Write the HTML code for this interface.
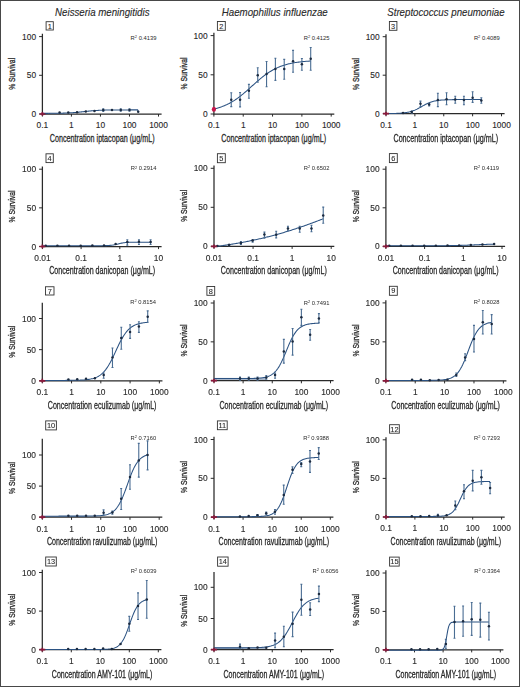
<!DOCTYPE html>
<html><head><meta charset="utf-8"><style>
html,body{margin:0;padding:0;background:#fff;overflow:hidden;}
svg{display:block;filter:blur(0.35px);}
text{font-family:"Liberation Sans",sans-serif;fill:#2a2a2a;}
.tl{font-size:8.4px;stroke:#2a2a2a;stroke-width:0.12px;}
.al{font-size:10.5px;stroke:#222;stroke-width:0.28px;}
.yl{font-size:9.7px;stroke:#222;stroke-width:0.3px;}
.ti{font-size:10.1px;font-style:italic;stroke:#2a2a2a;stroke-width:0.12px;}
.r2{font-size:5.8px;}
.bn{font-size:7.4px;stroke:#2a2a2a;stroke-width:0.1px;}
.sup{font-size:4px;}
</style></head><body>
<svg width="520" height="687" viewBox="0 0 520 687">
<rect x="0.5" y="0.5" width="519" height="686" fill="#fff" stroke="#484848" stroke-width="1"/>
<text x="102.3" y="15.6" class="ti" text-anchor="middle" textLength="94.4" lengthAdjust="spacingAndGlyphs">Neisseria meningitidis</text>
<text x="274.75" y="15.6" class="ti" text-anchor="middle" textLength="106.0" lengthAdjust="spacingAndGlyphs">Haemophillus influenzae</text>
<text x="445.9" y="15.6" class="ti" text-anchor="middle" textLength="117.3" lengthAdjust="spacingAndGlyphs">Streptococcus pneumoniae</text>
<path d="M42.4 33.7V114H161.6" fill="none" stroke="#2a2a2a" stroke-width="1.25"/>
<path d="M39.1 114H42.4" stroke="#2a2a2a" stroke-width="1"/>
<text x="36.1" y="117" class="tl" text-anchor="end">0</text>
<path d="M39.1 75.3H42.4" stroke="#2a2a2a" stroke-width="1"/>
<text x="36.1" y="78.3" class="tl" text-anchor="end">50</text>
<path d="M39.1 36.6H42.4" stroke="#2a2a2a" stroke-width="1"/>
<text x="36.1" y="39.6" class="tl" text-anchor="end">100</text>
<path d="M42.4 114V116.6" stroke="#2a2a2a" stroke-width="1"/>
<text x="42.4" y="128.4" class="tl" text-anchor="middle">0.1</text>
<path d="M71.42 114V116.6" stroke="#2a2a2a" stroke-width="1"/>
<text x="71.42" y="128.4" class="tl" text-anchor="middle">1</text>
<path d="M100.45 114V116.6" stroke="#2a2a2a" stroke-width="1"/>
<text x="100.45" y="128.4" class="tl" text-anchor="middle">10</text>
<path d="M129.47 114V116.6" stroke="#2a2a2a" stroke-width="1"/>
<text x="129.47" y="128.4" class="tl" text-anchor="middle">100</text>
<path d="M158.5 114V116.6" stroke="#2a2a2a" stroke-width="1"/>
<text x="158.5" y="128.4" class="tl" text-anchor="middle">1000</text>
<path d="M42.4 113.38 L43.2 113.38 L44 113.37 L44.8 113.37 L45.59 113.37 L46.39 113.36 L47.19 113.36 L47.99 113.36 L48.79 113.35 L49.59 113.35 L50.38 113.34 L51.18 113.34 L51.98 113.33 L52.78 113.32 L53.58 113.32 L54.38 113.31 L55.17 113.3 L55.97 113.29 L56.77 113.28 L57.57 113.26 L58.37 113.25 L59.17 113.24 L59.97 113.22 L60.76 113.2 L61.56 113.18 L62.36 113.16 L63.16 113.14 L63.96 113.11 L64.76 113.09 L65.55 113.06 L66.35 113.03 L67.15 112.99 L67.95 112.96 L68.75 112.92 L69.55 112.87 L70.35 112.83 L71.14 112.78 L71.94 112.73 L72.74 112.67 L73.54 112.61 L74.34 112.55 L75.14 112.49 L75.93 112.42 L76.73 112.35 L77.53 112.27 L78.33 112.2 L79.13 112.12 L79.93 112.04 L80.72 111.95 L81.52 111.87 L82.32 111.78 L83.12 111.7 L83.92 111.61 L84.72 111.52 L85.52 111.44 L86.31 111.35 L87.11 111.27 L87.91 111.19 L88.71 111.11 L89.51 111.03 L90.31 110.95 L91.1 110.88 L91.9 110.81 L92.7 110.75 L93.5 110.68 L94.3 110.62 L95.1 110.57 L95.9 110.52 L96.69 110.47 L97.49 110.42 L98.29 110.38 L99.09 110.34 L99.89 110.3 L100.69 110.26 L101.48 110.23 L102.28 110.2 L103.08 110.17 L103.88 110.15 L104.68 110.13 L105.48 110.1 L106.27 110.08 L107.07 110.07 L107.87 110.05 L108.67 110.03 L109.47 110.02 L110.27 110.01 L111.07 110 L111.86 109.99 L112.66 109.98 L113.46 109.97 L114.26 109.96 L115.06 109.95 L115.86 109.95 L116.65 109.94 L117.45 109.94 L118.25 109.93 L119.05 109.93 L119.85 109.92 L120.65 109.92 L121.45 109.92 L122.24 109.91 L123.04 109.91 L123.84 109.91 L124.64 109.9 L125.44 109.9 L126.24 109.9 L127.03 109.9 L127.83 109.9 L128.63 109.9 L129.43 109.9 L130.23 109.89 L131.03 109.89 L131.82 109.89 L132.62 109.89 L133.42 109.89 L134.22 109.89 L135.02 109.89 L135.82 109.89 L136.62 109.89 L137.41 109.89 L137.61 109.89 L138.41 111.8" fill="none" stroke="#2b5282" stroke-width="1.05"/>
<circle cx="59.58" cy="112.6" r="1.25" fill="#1c2b40"/>
<circle cx="68.31" cy="112.6" r="1.25" fill="#1c2b40"/>
<circle cx="77.05" cy="112.2" r="1.25" fill="#1c2b40"/>
<circle cx="85.79" cy="111.5" r="1.25" fill="#1c2b40"/>
<circle cx="94.53" cy="110.9" r="1.25" fill="#1c2b40"/>
<path d="M103.26 108.7V111.4M102.26 108.7H104.26M102.26 111.4H104.26" stroke="#4a6d93" stroke-width="1.1"/>
<circle cx="103.26" cy="110" r="1.25" fill="#1c2b40"/>
<circle cx="112" cy="110" r="1.25" fill="#1c2b40"/>
<path d="M120.74 108.7V111.3M119.74 108.7H121.74M119.74 111.3H121.74" stroke="#4a6d93" stroke-width="1.1"/>
<circle cx="120.74" cy="109.9" r="1.25" fill="#1c2b40"/>
<path d="M129.47 108.7V111.3M128.47 108.7H130.47M128.47 111.3H130.47" stroke="#4a6d93" stroke-width="1.1"/>
<circle cx="129.47" cy="109.9" r="1.25" fill="#1c2b40"/>
<circle cx="138.21" cy="111.8" r="1.25" fill="#1c2b40"/>
<path d="M39.4 114H45.4M42.4 112V115.8" stroke="#8a1a3c" stroke-width="1.7"/>
<rect x="46.1" y="21.7" width="7.2" height="8.3" fill="none" stroke="#333" stroke-width="0.9"/>
<text x="49.7" y="28.5" class="bn" text-anchor="middle">1</text>
<text x="130.6" y="39.7" class="r2">R<tspan class="sup" dy="-1.8">2</tspan><tspan dy="1.8"> 0.4139</tspan></text>
<text transform="translate(15.4 73.85) rotate(-90)" class="yl" text-anchor="middle" textLength="32" lengthAdjust="spacingAndGlyphs">% Survival</text>
<text x="102.2" y="142" class="al" text-anchor="middle" textLength="104.7" lengthAdjust="spacingAndGlyphs">Concentration iptacopan (μg/mL)</text>
<path d="M213.9 32.8V114H334.3" fill="none" stroke="#2a2a2a" stroke-width="1.25"/>
<path d="M210.6 114H213.9" stroke="#2a2a2a" stroke-width="1"/>
<text x="207.6" y="117" class="tl" text-anchor="end">0</text>
<path d="M210.6 74.8H213.9" stroke="#2a2a2a" stroke-width="1"/>
<text x="207.6" y="77.8" class="tl" text-anchor="end">50</text>
<path d="M210.6 35.6H213.9" stroke="#2a2a2a" stroke-width="1"/>
<text x="207.6" y="38.6" class="tl" text-anchor="end">100</text>
<path d="M213.9 114V116.6" stroke="#2a2a2a" stroke-width="1"/>
<text x="213.9" y="128.4" class="tl" text-anchor="middle">0.1</text>
<path d="M243.22 114V116.6" stroke="#2a2a2a" stroke-width="1"/>
<text x="243.22" y="128.4" class="tl" text-anchor="middle">1</text>
<path d="M272.55 114V116.6" stroke="#2a2a2a" stroke-width="1"/>
<text x="272.55" y="128.4" class="tl" text-anchor="middle">10</text>
<path d="M301.88 114V116.6" stroke="#2a2a2a" stroke-width="1"/>
<text x="301.88" y="128.4" class="tl" text-anchor="middle">100</text>
<path d="M331.2 114V116.6" stroke="#2a2a2a" stroke-width="1"/>
<text x="331.2" y="128.4" class="tl" text-anchor="middle">1000</text>
<path d="M213.9 109 L214.71 108.8 L215.51 108.6 L216.32 108.39 L217.13 108.17 L217.93 107.94 L218.74 107.7 L219.55 107.45 L220.35 107.19 L221.16 106.91 L221.97 106.62 L222.77 106.32 L223.58 106.01 L224.39 105.68 L225.19 105.34 L226 104.98 L226.81 104.61 L227.61 104.23 L228.42 103.83 L229.23 103.42 L230.03 102.99 L230.84 102.54 L231.65 102.08 L232.45 101.6 L233.26 101.11 L234.07 100.6 L234.87 100.08 L235.68 99.54 L236.49 98.99 L237.29 98.42 L238.1 97.83 L238.91 97.24 L239.71 96.62 L240.52 96 L241.33 95.36 L242.13 94.71 L242.94 94.04 L243.75 93.37 L244.55 92.68 L245.36 91.99 L246.17 91.29 L246.97 90.58 L247.78 89.86 L248.59 89.14 L249.39 88.42 L250.2 87.69 L251.01 86.96 L251.81 86.23 L252.62 85.5 L253.43 84.77 L254.23 84.04 L255.04 83.32 L255.85 82.6 L256.65 81.88 L257.46 81.18 L258.27 80.48 L259.07 79.79 L259.88 79.11 L260.69 78.44 L261.49 77.78 L262.3 77.13 L263.11 76.5 L263.91 75.87 L264.72 75.27 L265.53 74.67 L266.33 74.1 L267.14 73.53 L267.95 72.98 L268.75 72.45 L269.56 71.93 L270.37 71.43 L271.17 70.94 L271.98 70.47 L272.79 70.02 L273.6 69.58 L274.4 69.15 L275.21 68.75 L276.02 68.35 L276.82 67.97 L277.63 67.61 L278.44 67.26 L279.24 66.92 L280.05 66.6 L280.86 66.29 L281.66 65.99 L282.47 65.71 L283.28 65.44 L284.08 65.18 L284.89 64.93 L285.7 64.69 L286.5 64.47 L287.31 64.25 L288.12 64.04 L288.92 63.85 L289.73 63.66 L290.54 63.48 L291.34 63.31 L292.15 63.15 L292.96 63 L293.76 62.85 L294.57 62.71 L295.38 62.58 L296.18 62.45 L296.99 62.33 L297.8 62.22 L298.6 62.11 L299.41 62.01 L300.22 61.91 L301.02 61.82 L301.83 61.73 L302.64 61.64 L303.44 61.56 L304.25 61.49 L305.06 61.42 L305.86 61.35 L306.67 61.29 L307.48 61.23 L308.28 61.17 L309.09 61.11 L309.9 61.06 L310.7 61.01" fill="none" stroke="#2b5282" stroke-width="1.05"/>
<path d="M231.25 92.8V106.6M230.25 92.8H232.25M230.25 106.6H232.25" stroke="#4a6d93" stroke-width="1.1"/>
<circle cx="231.25" cy="99.7" r="1.25" fill="#1c2b40"/>
<path d="M240.08 92.5V106.9M239.08 92.5H241.08M239.08 106.9H241.08" stroke="#4a6d93" stroke-width="1.1"/>
<circle cx="240.08" cy="99.7" r="1.25" fill="#1c2b40"/>
<path d="M248.91 84.4V98.3M247.91 84.4H249.91M247.91 98.3H249.91" stroke="#4a6d93" stroke-width="1.1"/>
<circle cx="248.91" cy="90.8" r="1.25" fill="#1c2b40"/>
<path d="M257.74 67.7V82.1M256.74 67.7H258.74M256.74 82.1H258.74" stroke="#4a6d93" stroke-width="1.1"/>
<circle cx="257.74" cy="75.2" r="1.25" fill="#1c2b40"/>
<path d="M266.56 61.5V86.7M265.56 61.5H267.56M265.56 86.7H267.56" stroke="#4a6d93" stroke-width="1.1"/>
<circle cx="266.56" cy="74" r="1.25" fill="#1c2b40"/>
<path d="M275.39 58.2V80.4M274.39 58.2H276.39M274.39 80.4H276.39" stroke="#4a6d93" stroke-width="1.1"/>
<circle cx="275.39" cy="69.1" r="1.25" fill="#1c2b40"/>
<path d="M284.22 59.4V79.2M283.22 59.4H285.22M283.22 79.2H285.22" stroke="#4a6d93" stroke-width="1.1"/>
<circle cx="284.22" cy="69.1" r="1.25" fill="#1c2b40"/>
<path d="M293.05 50.4V72.3M292.05 50.4H294.05M292.05 72.3H294.05" stroke="#4a6d93" stroke-width="1.1"/>
<circle cx="293.05" cy="61.3" r="1.25" fill="#1c2b40"/>
<path d="M301.88 58.5V70.2M300.88 58.5H302.88M300.88 70.2H302.88" stroke="#4a6d93" stroke-width="1.1"/>
<circle cx="301.88" cy="64.2" r="1.25" fill="#1c2b40"/>
<path d="M310.7 47.5V70.2M309.7 47.5H311.7M309.7 70.2H311.7" stroke="#4a6d93" stroke-width="1.1"/>
<circle cx="310.7" cy="58.7" r="1.25" fill="#1c2b40"/>
<ellipse cx="213.9" cy="109.2" rx="2.1" ry="2.5" fill="#c8164a"/>
<rect x="217.4" y="21.5" width="7.9" height="8.8" fill="none" stroke="#333" stroke-width="0.9"/>
<text x="221.35" y="28.55" class="bn" text-anchor="middle">2</text>
<text x="303.7" y="39.7" class="r2">R<tspan class="sup" dy="-1.8">2</tspan><tspan dy="1.8"> 0.4125</tspan></text>
<text transform="translate(186.9 73.4) rotate(-90)" class="yl" text-anchor="middle" textLength="32" lengthAdjust="spacingAndGlyphs">% Survival</text>
<text x="273.7" y="142" class="al" text-anchor="middle" textLength="104.7" lengthAdjust="spacingAndGlyphs">Concentration iptacopan (μg/mL)</text>
<path d="M386 34.2V113.7H504.6" fill="none" stroke="#2a2a2a" stroke-width="1.25"/>
<path d="M382.7 113.7H386" stroke="#2a2a2a" stroke-width="1"/>
<text x="379.7" y="116.7" class="tl" text-anchor="end">0</text>
<path d="M382.7 75.2H386" stroke="#2a2a2a" stroke-width="1"/>
<text x="379.7" y="78.2" class="tl" text-anchor="end">50</text>
<path d="M382.7 36.7H386" stroke="#2a2a2a" stroke-width="1"/>
<text x="379.7" y="39.7" class="tl" text-anchor="end">100</text>
<path d="M386 113.7V116.3" stroke="#2a2a2a" stroke-width="1"/>
<text x="386" y="128.1" class="tl" text-anchor="middle">0.1</text>
<path d="M414.88 113.7V116.3" stroke="#2a2a2a" stroke-width="1"/>
<text x="414.88" y="128.1" class="tl" text-anchor="middle">1</text>
<path d="M443.75 113.7V116.3" stroke="#2a2a2a" stroke-width="1"/>
<text x="443.75" y="128.1" class="tl" text-anchor="middle">10</text>
<path d="M472.62 113.7V116.3" stroke="#2a2a2a" stroke-width="1"/>
<text x="472.62" y="128.1" class="tl" text-anchor="middle">100</text>
<path d="M501.5 113.7V116.3" stroke="#2a2a2a" stroke-width="1"/>
<text x="501.5" y="128.1" class="tl" text-anchor="middle">1000</text>
<path d="M386 113.57 L386.79 113.56 L387.59 113.55 L388.38 113.55 L389.18 113.54 L389.97 113.53 L390.77 113.52 L391.56 113.5 L392.35 113.49 L393.15 113.47 L393.94 113.46 L394.74 113.44 L395.53 113.41 L396.33 113.39 L397.12 113.35 L397.91 113.32 L398.71 113.28 L399.5 113.24 L400.3 113.19 L401.09 113.13 L401.89 113.07 L402.68 113 L403.47 112.92 L404.27 112.83 L405.06 112.73 L405.86 112.61 L406.65 112.49 L407.45 112.34 L408.24 112.19 L409.03 112.01 L409.83 111.82 L410.62 111.61 L411.42 111.38 L412.21 111.12 L413.01 110.85 L413.8 110.55 L414.6 110.23 L415.39 109.89 L416.18 109.52 L416.98 109.14 L417.77 108.73 L418.57 108.31 L419.36 107.88 L420.16 107.43 L420.95 106.98 L421.74 106.53 L422.54 106.08 L423.33 105.63 L424.13 105.18 L424.92 104.75 L425.72 104.34 L426.51 103.94 L427.3 103.55 L428.1 103.19 L428.89 102.86 L429.69 102.54 L430.48 102.25 L431.28 101.97 L432.07 101.73 L432.86 101.5 L433.66 101.29 L434.45 101.1 L435.25 100.93 L436.04 100.78 L436.84 100.64 L437.63 100.52 L438.42 100.41 L439.22 100.31 L440.01 100.22 L440.81 100.14 L441.6 100.07 L442.4 100.01 L443.19 99.95 L443.98 99.91 L444.78 99.86 L445.57 99.83 L446.37 99.79 L447.16 99.76 L447.96 99.74 L448.75 99.71 L449.54 99.69 L450.34 99.68 L451.13 99.66 L451.93 99.65 L452.72 99.63 L453.52 99.62 L454.31 99.61 L455.1 99.61 L455.9 99.6 L456.69 99.59 L457.49 99.59 L458.28 99.58 L459.08 99.58 L459.87 99.57 L460.67 99.57 L461.46 99.57 L462.25 99.56 L463.05 99.56 L463.84 99.56 L464.64 99.56 L465.43 99.56 L466.23 99.55 L467.02 99.55 L467.81 99.55 L468.61 99.55 L469.4 99.55 L470.2 99.55 L470.99 99.55 L471.79 99.55 L472.58 99.55 L473.37 99.55 L474.17 99.55 L474.96 99.55 L475.76 99.55 L476.55 99.55 L477.35 99.55 L478.14 99.55 L478.93 99.55 L479.73 99.55 L480.52 99.55 L481.32 99.55" fill="none" stroke="#2b5282" stroke-width="1.05"/>
<circle cx="403.09" cy="113" r="1.25" fill="#1c2b40"/>
<path d="M411.78 111V113.3M410.78 111H412.78M410.78 113.3H412.78" stroke="#4a6d93" stroke-width="1.1"/>
<circle cx="411.78" cy="112.1" r="1.25" fill="#1c2b40"/>
<path d="M420.47 101.1V106.6M419.47 101.1H421.47M419.47 106.6H421.47" stroke="#4a6d93" stroke-width="1.1"/>
<circle cx="420.47" cy="103.8" r="1.25" fill="#1c2b40"/>
<path d="M429.16 103.3V106M428.16 103.3H430.16M428.16 106H430.16" stroke="#4a6d93" stroke-width="1.1"/>
<circle cx="429.16" cy="104.6" r="1.25" fill="#1c2b40"/>
<path d="M437.86 93.2V106.6M436.86 93.2H438.86M436.86 106.6H438.86" stroke="#4a6d93" stroke-width="1.1"/>
<circle cx="437.86" cy="100" r="1.25" fill="#1c2b40"/>
<path d="M446.55 92.7V104.7M445.55 92.7H447.55M445.55 104.7H447.55" stroke="#4a6d93" stroke-width="1.1"/>
<circle cx="446.55" cy="99.3" r="1.25" fill="#1c2b40"/>
<path d="M455.24 96.3V103.3M454.24 96.3H456.24M454.24 103.3H456.24" stroke="#4a6d93" stroke-width="1.1"/>
<circle cx="455.24" cy="99.6" r="1.25" fill="#1c2b40"/>
<path d="M463.93 96.3V104.7M462.93 96.3H464.93M462.93 104.7H464.93" stroke="#4a6d93" stroke-width="1.1"/>
<circle cx="463.93" cy="100" r="1.25" fill="#1c2b40"/>
<path d="M472.62 91.8V102.4M471.62 91.8H473.62M471.62 102.4H473.62" stroke="#4a6d93" stroke-width="1.1"/>
<circle cx="472.62" cy="97.8" r="1.25" fill="#1c2b40"/>
<path d="M481.32 97.8V103.3M480.32 97.8H482.32M480.32 103.3H482.32" stroke="#4a6d93" stroke-width="1.1"/>
<circle cx="481.32" cy="100.5" r="1.25" fill="#1c2b40"/>
<path d="M383 113.7H389M386 111.7V115.5" stroke="#8a1a3c" stroke-width="1.7"/>
<rect x="389.4" y="21.5" width="7.5" height="8.8" fill="none" stroke="#333" stroke-width="0.9"/>
<text x="393.15" y="28.55" class="bn" text-anchor="middle">3</text>
<text x="473.9" y="39.7" class="r2">R<tspan class="sup" dy="-1.8">2</tspan><tspan dy="1.8"> 0.4089</tspan></text>
<text transform="translate(359 73.95) rotate(-90)" class="yl" text-anchor="middle" textLength="32" lengthAdjust="spacingAndGlyphs">% Survival</text>
<text x="445.8" y="142" class="al" text-anchor="middle" textLength="104.7" lengthAdjust="spacingAndGlyphs">Concentration iptacopan (μg/mL)</text>
<path d="M42.4 166.4V246.5H161.6" fill="none" stroke="#2a2a2a" stroke-width="1.25"/>
<path d="M39.1 246.5H42.4" stroke="#2a2a2a" stroke-width="1"/>
<text x="36.1" y="249.5" class="tl" text-anchor="end">0</text>
<path d="M39.1 207.85H42.4" stroke="#2a2a2a" stroke-width="1"/>
<text x="36.1" y="210.85" class="tl" text-anchor="end">50</text>
<path d="M39.1 169.2H42.4" stroke="#2a2a2a" stroke-width="1"/>
<text x="36.1" y="172.2" class="tl" text-anchor="end">100</text>
<path d="M42.4 246.5V249.1" stroke="#2a2a2a" stroke-width="1"/>
<text x="42.4" y="260.9" class="tl" text-anchor="middle">0.01</text>
<path d="M81.1 246.5V249.1" stroke="#2a2a2a" stroke-width="1"/>
<text x="81.1" y="260.9" class="tl" text-anchor="middle">0.1</text>
<path d="M119.8 246.5V249.1" stroke="#2a2a2a" stroke-width="1"/>
<text x="119.8" y="260.9" class="tl" text-anchor="middle">1</text>
<path d="M158.5 246.5V249.1" stroke="#2a2a2a" stroke-width="1"/>
<text x="158.5" y="260.9" class="tl" text-anchor="middle">10</text>
<path d="M42.4 245.75 L43.3 245.75 L44.2 245.75 L45.11 245.75 L46.01 245.75 L46.91 245.75 L47.81 245.75 L48.71 245.75 L49.61 245.75 L50.52 245.75 L51.42 245.75 L52.32 245.75 L53.22 245.75 L54.12 245.75 L55.02 245.75 L55.93 245.75 L56.83 245.75 L57.73 245.75 L58.63 245.75 L59.53 245.75 L60.43 245.75 L61.34 245.75 L62.24 245.75 L63.14 245.75 L64.04 245.75 L64.94 245.75 L65.84 245.75 L66.75 245.75 L67.65 245.75 L68.55 245.75 L69.45 245.75 L70.35 245.75 L71.25 245.75 L72.16 245.75 L73.06 245.75 L73.96 245.75 L74.86 245.75 L75.76 245.75 L76.66 245.75 L77.57 245.75 L78.47 245.75 L79.37 245.75 L80.27 245.74 L81.17 245.74 L82.07 245.74 L82.98 245.74 L83.88 245.74 L84.78 245.74 L85.68 245.74 L86.58 245.74 L87.48 245.74 L88.39 245.74 L89.29 245.74 L90.19 245.74 L91.09 245.74 L91.99 245.74 L92.89 245.74 L93.8 245.74 L94.7 245.74 L95.6 245.74 L96.5 245.74 L97.4 245.73 L98.3 245.73 L99.21 245.73 L100.11 245.72 L101.01 245.71 L101.91 245.7 L102.81 245.69 L103.71 245.68 L104.62 245.66 L105.52 245.64 L106.42 245.61 L107.32 245.57 L108.22 245.52 L109.12 245.46 L110.03 245.39 L110.93 245.31 L111.83 245.2 L112.73 245.08 L113.63 244.93 L114.53 244.77 L115.44 244.58 L116.34 244.38 L117.24 244.16 L118.14 243.94 L119.04 243.72 L119.94 243.51 L120.85 243.31 L121.75 243.12 L122.65 242.96 L123.55 242.81 L124.45 242.69 L125.35 242.59 L126.26 242.5 L127.16 242.43 L128.06 242.37 L128.96 242.33 L129.86 242.29 L130.76 242.26 L131.67 242.24 L132.57 242.22 L133.47 242.2 L134.37 242.19 L135.27 242.18 L136.17 242.18 L137.08 242.17 L137.98 242.17 L138.88 242.16 L139.78 242.16 L140.68 242.16 L141.58 242.16 L142.49 242.16 L143.39 242.15 L144.29 242.15 L145.19 242.15 L146.09 242.15 L146.99 242.15 L147.9 242.15 L148.8 242.15 L149.7 242.15 L150.6 242.15" fill="none" stroke="#2b5282" stroke-width="1.05"/>
<circle cx="45.75" cy="245.8" r="1.25" fill="#1c2b40"/>
<circle cx="57.4" cy="245.7" r="1.25" fill="#1c2b40"/>
<circle cx="69.05" cy="245.7" r="1.25" fill="#1c2b40"/>
<circle cx="80.7" cy="245.7" r="1.25" fill="#1c2b40"/>
<circle cx="92.35" cy="245.5" r="1.25" fill="#1c2b40"/>
<circle cx="104" cy="245.5" r="1.25" fill="#1c2b40"/>
<circle cx="115.65" cy="244.1" r="1.25" fill="#1c2b40"/>
<path d="M127.3 239.7V245.1M126.3 239.7H128.3M126.3 245.1H128.3" stroke="#4a6d93" stroke-width="1.1"/>
<circle cx="127.3" cy="242.1" r="1.25" fill="#1c2b40"/>
<path d="M138.95 239.7V244.5M137.95 239.7H139.95M137.95 244.5H139.95" stroke="#4a6d93" stroke-width="1.1"/>
<circle cx="138.95" cy="241.7" r="1.25" fill="#1c2b40"/>
<path d="M150.6 239.8V244.5M149.6 239.8H151.6M149.6 244.5H151.6" stroke="#4a6d93" stroke-width="1.1"/>
<circle cx="150.6" cy="242.1" r="1.25" fill="#1c2b40"/>
<path d="M39.4 246.5H45.4M42.4 244.5V248.3" stroke="#8a1a3c" stroke-width="1.7"/>
<rect x="46" y="153.8" width="7.3" height="8.8" fill="none" stroke="#333" stroke-width="0.9"/>
<text x="49.65" y="160.85" class="bn" text-anchor="middle">4</text>
<text x="130.7" y="170.4" class="r2">R<tspan class="sup" dy="-1.8">2</tspan><tspan dy="1.8"> 0.2914</tspan></text>
<text transform="translate(15.4 206.45) rotate(-90)" class="yl" text-anchor="middle" textLength="32" lengthAdjust="spacingAndGlyphs">% Survival</text>
<text x="102.2" y="274" class="al" text-anchor="middle" textLength="105.95" lengthAdjust="spacingAndGlyphs">Concentration danicopan (μg/mL)</text>
<path d="M214 165.4V246.3H334.3" fill="none" stroke="#2a2a2a" stroke-width="1.25"/>
<path d="M210.7 246.3H214" stroke="#2a2a2a" stroke-width="1"/>
<text x="207.7" y="249.3" class="tl" text-anchor="end">0</text>
<path d="M210.7 207.3H214" stroke="#2a2a2a" stroke-width="1"/>
<text x="207.7" y="210.3" class="tl" text-anchor="end">50</text>
<path d="M210.7 168.3H214" stroke="#2a2a2a" stroke-width="1"/>
<text x="207.7" y="171.3" class="tl" text-anchor="end">100</text>
<path d="M214 246.3V248.9" stroke="#2a2a2a" stroke-width="1"/>
<text x="214" y="260.7" class="tl" text-anchor="middle">0.01</text>
<path d="M253.07 246.3V248.9" stroke="#2a2a2a" stroke-width="1"/>
<text x="253.07" y="260.7" class="tl" text-anchor="middle">0.1</text>
<path d="M292.13 246.3V248.9" stroke="#2a2a2a" stroke-width="1"/>
<text x="292.13" y="260.7" class="tl" text-anchor="middle">1</text>
<path d="M331.2 246.3V248.9" stroke="#2a2a2a" stroke-width="1"/>
<text x="331.2" y="260.7" class="tl" text-anchor="middle">10</text>
<path d="M214 246.73 L214.91 246.62 L215.82 246.5 L216.73 246.38 L217.64 246.27 L218.55 246.14 L219.46 246.02 L220.37 245.9 L221.28 245.77 L222.19 245.65 L223.1 245.52 L224.01 245.39 L224.92 245.26 L225.83 245.12 L226.74 244.99 L227.65 244.85 L228.56 244.71 L229.47 244.57 L230.38 244.43 L231.29 244.29 L232.2 244.14 L233.11 243.99 L234.02 243.84 L234.93 243.69 L235.85 243.54 L236.76 243.38 L237.67 243.23 L238.58 243.07 L239.49 242.91 L240.4 242.74 L241.31 242.58 L242.22 242.41 L243.13 242.24 L244.04 242.07 L244.95 241.9 L245.86 241.72 L246.77 241.55 L247.68 241.37 L248.59 241.19 L249.5 241 L250.41 240.82 L251.32 240.63 L252.23 240.44 L253.14 240.25 L254.05 240.05 L254.96 239.86 L255.87 239.66 L256.78 239.46 L257.69 239.26 L258.6 239.05 L259.51 238.84 L260.42 238.64 L261.33 238.42 L262.24 238.21 L263.15 237.99 L264.06 237.77 L264.97 237.55 L265.88 237.33 L266.79 237.11 L267.7 236.88 L268.61 236.65 L269.52 236.42 L270.43 236.18 L271.34 235.94 L272.25 235.71 L273.16 235.46 L274.07 235.22 L274.98 234.97 L275.89 234.73 L276.8 234.48 L277.71 234.22 L278.63 233.97 L279.54 233.71 L280.45 233.45 L281.36 233.19 L282.27 232.92 L283.18 232.65 L284.09 232.39 L285 232.11 L285.91 231.84 L286.82 231.56 L287.73 231.28 L288.64 231 L289.55 230.72 L290.46 230.43 L291.37 230.15 L292.28 229.86 L293.19 229.56 L294.1 229.27 L295.01 228.97 L295.92 228.67 L296.83 228.37 L297.74 228.07 L298.65 227.76 L299.56 227.46 L300.47 227.15 L301.38 226.83 L302.29 226.52 L303.2 226.2 L304.11 225.89 L305.02 225.57 L305.93 225.24 L306.84 224.92 L307.75 224.59 L308.66 224.27 L309.57 223.94 L310.48 223.6 L311.39 223.27 L312.3 222.93 L313.21 222.6 L314.12 222.26 L315.03 221.92 L315.94 221.57 L316.85 221.23 L317.76 220.88 L318.67 220.54 L319.58 220.19 L320.5 219.84 L321.41 219.48 L322.32 219.13 L323.23 218.77" fill="none" stroke="#2b5282" stroke-width="1.05"/>
<circle cx="217.38" cy="246" r="1.25" fill="#1c2b40"/>
<path d="M229.14 244.2V245.8M228.14 244.2H230.14M228.14 245.8H230.14" stroke="#4a6d93" stroke-width="1.1"/>
<circle cx="229.14" cy="245" r="1.25" fill="#1c2b40"/>
<path d="M240.9 241.5V244.4M239.9 241.5H241.9M239.9 244.4H241.9" stroke="#4a6d93" stroke-width="1.1"/>
<circle cx="240.9" cy="242.9" r="1.25" fill="#1c2b40"/>
<path d="M252.66 239.5V242.1M251.66 239.5H253.66M251.66 242.1H253.66" stroke="#4a6d93" stroke-width="1.1"/>
<circle cx="252.66" cy="240.6" r="1.25" fill="#1c2b40"/>
<path d="M264.42 232.1V238.1M263.42 232.1H265.42M263.42 238.1H265.42" stroke="#4a6d93" stroke-width="1.1"/>
<circle cx="264.42" cy="234.6" r="1.25" fill="#1c2b40"/>
<path d="M276.18 231.3V237.9M275.18 231.3H277.18M275.18 237.9H277.18" stroke="#4a6d93" stroke-width="1.1"/>
<circle cx="276.18" cy="234.8" r="1.25" fill="#1c2b40"/>
<path d="M287.94 226.2V230.8M286.94 226.2H288.94M286.94 230.8H288.94" stroke="#4a6d93" stroke-width="1.1"/>
<circle cx="287.94" cy="228.5" r="1.25" fill="#1c2b40"/>
<path d="M299.71 226.4V232.2M298.71 226.4H300.71M298.71 232.2H300.71" stroke="#4a6d93" stroke-width="1.1"/>
<circle cx="299.71" cy="228.5" r="1.25" fill="#1c2b40"/>
<path d="M311.47 225.2V231.7M310.47 225.2H312.47M310.47 231.7H312.47" stroke="#4a6d93" stroke-width="1.1"/>
<circle cx="311.47" cy="228.5" r="1.25" fill="#1c2b40"/>
<path d="M323.23 207.1V223.3M322.23 207.1H324.23M322.23 223.3H324.23" stroke="#4a6d93" stroke-width="1.1"/>
<circle cx="323.23" cy="215.5" r="1.25" fill="#1c2b40"/>
<path d="M211 246.4H217M214 244.4V248.2" stroke="#8a1a3c" stroke-width="1.7"/>
<rect x="217.4" y="153.7" width="7.9" height="9" fill="none" stroke="#333" stroke-width="0.9"/>
<text x="221.35" y="160.85" class="bn" text-anchor="middle">5</text>
<text x="303.7" y="170.2" class="r2">R<tspan class="sup" dy="-1.8">2</tspan><tspan dy="1.8"> 0.6502</tspan></text>
<text transform="translate(187 205.85) rotate(-90)" class="yl" text-anchor="middle" textLength="32" lengthAdjust="spacingAndGlyphs">% Survival</text>
<text x="273.8" y="274" class="al" text-anchor="middle" textLength="105.95" lengthAdjust="spacingAndGlyphs">Concentration danicopan (μg/mL)</text>
<path d="M385.9 166.2V246.4H505.1" fill="none" stroke="#2a2a2a" stroke-width="1.25"/>
<path d="M382.6 246.4H385.9" stroke="#2a2a2a" stroke-width="1"/>
<text x="379.6" y="249.4" class="tl" text-anchor="end">0</text>
<path d="M382.6 207.8H385.9" stroke="#2a2a2a" stroke-width="1"/>
<text x="379.6" y="210.8" class="tl" text-anchor="end">50</text>
<path d="M382.6 169.2H385.9" stroke="#2a2a2a" stroke-width="1"/>
<text x="379.6" y="172.2" class="tl" text-anchor="end">100</text>
<path d="M385.9 246.4V249" stroke="#2a2a2a" stroke-width="1"/>
<text x="385.9" y="260.8" class="tl" text-anchor="middle">0.01</text>
<path d="M424.6 246.4V249" stroke="#2a2a2a" stroke-width="1"/>
<text x="424.6" y="260.8" class="tl" text-anchor="middle">0.1</text>
<path d="M463.3 246.4V249" stroke="#2a2a2a" stroke-width="1"/>
<text x="463.3" y="260.8" class="tl" text-anchor="middle">1</text>
<path d="M502 246.4V249" stroke="#2a2a2a" stroke-width="1"/>
<text x="502" y="260.8" class="tl" text-anchor="middle">10</text>
<path d="M385.9 245.78 L386.8 245.78 L387.7 245.78 L388.61 245.78 L389.51 245.78 L390.41 245.78 L391.31 245.78 L392.21 245.78 L393.11 245.78 L394.02 245.78 L394.92 245.78 L395.82 245.78 L396.72 245.78 L397.62 245.78 L398.52 245.78 L399.43 245.78 L400.33 245.78 L401.23 245.78 L402.13 245.78 L403.03 245.78 L403.93 245.78 L404.84 245.78 L405.74 245.78 L406.64 245.78 L407.54 245.78 L408.44 245.78 L409.34 245.78 L410.25 245.78 L411.15 245.78 L412.05 245.78 L412.95 245.78 L413.85 245.78 L414.75 245.78 L415.66 245.78 L416.56 245.78 L417.46 245.78 L418.36 245.78 L419.26 245.78 L420.16 245.77 L421.07 245.77 L421.97 245.77 L422.87 245.77 L423.77 245.77 L424.67 245.77 L425.57 245.77 L426.48 245.77 L427.38 245.76 L428.28 245.76 L429.18 245.76 L430.08 245.76 L430.98 245.76 L431.89 245.75 L432.79 245.75 L433.69 245.75 L434.59 245.74 L435.49 245.74 L436.39 245.74 L437.3 245.73 L438.2 245.73 L439.1 245.72 L440 245.72 L440.9 245.71 L441.8 245.71 L442.71 245.7 L443.61 245.69 L444.51 245.68 L445.41 245.67 L446.31 245.67 L447.21 245.66 L448.12 245.64 L449.02 245.63 L449.92 245.62 L450.82 245.61 L451.72 245.59 L452.62 245.58 L453.53 245.56 L454.43 245.54 L455.33 245.53 L456.23 245.51 L457.13 245.48 L458.03 245.46 L458.94 245.44 L459.84 245.41 L460.74 245.39 L461.64 245.36 L462.54 245.33 L463.44 245.3 L464.35 245.27 L465.25 245.24 L466.15 245.2 L467.05 245.17 L467.95 245.13 L468.85 245.1 L469.76 245.06 L470.66 245.02 L471.56 244.98 L472.46 244.94 L473.36 244.9 L474.26 244.86 L475.17 244.82 L476.07 244.79 L476.97 244.75 L477.87 244.71 L478.77 244.67 L479.67 244.63 L480.58 244.6 L481.48 244.56 L482.38 244.53 L483.28 244.49 L484.18 244.46 L485.08 244.43 L485.99 244.4 L486.89 244.37 L487.79 244.34 L488.69 244.32 L489.59 244.29 L490.49 244.27 L491.4 244.25 L492.3 244.23 L493.2 244.21 L494.1 244.19" fill="none" stroke="#2b5282" stroke-width="1.05"/>
<circle cx="389.25" cy="245.8" r="1.25" fill="#1c2b40"/>
<circle cx="400.9" cy="245.7" r="1.25" fill="#1c2b40"/>
<circle cx="412.55" cy="245.7" r="1.25" fill="#1c2b40"/>
<circle cx="424.2" cy="245.7" r="1.25" fill="#1c2b40"/>
<circle cx="435.85" cy="245.7" r="1.25" fill="#1c2b40"/>
<circle cx="447.5" cy="245.6" r="1.25" fill="#1c2b40"/>
<circle cx="459.15" cy="245.5" r="1.25" fill="#1c2b40"/>
<circle cx="470.8" cy="245.1" r="1.25" fill="#1c2b40"/>
<circle cx="482.45" cy="244.5" r="1.25" fill="#1c2b40"/>
<circle cx="494.1" cy="244.1" r="1.25" fill="#1c2b40"/>
<path d="M382.9 246.4H388.9M385.9 244.4V248.2" stroke="#8a1a3c" stroke-width="1.7"/>
<rect x="389.4" y="153.6" width="7.9" height="9" fill="none" stroke="#333" stroke-width="0.9"/>
<text x="393.35" y="160.75" class="bn" text-anchor="middle">6</text>
<text x="473.7" y="170.2" class="r2">R<tspan class="sup" dy="-1.8">2</tspan><tspan dy="1.8"> 0.4119</tspan></text>
<text transform="translate(358.9 206.3) rotate(-90)" class="yl" text-anchor="middle" textLength="32" lengthAdjust="spacingAndGlyphs">% Survival</text>
<text x="445.7" y="274" class="al" text-anchor="middle" textLength="105.95" lengthAdjust="spacingAndGlyphs">Concentration danicopan (μg/mL)</text>
<path d="M42.3 302.7V380.8H162.45" fill="none" stroke="#2a2a2a" stroke-width="1.25"/>
<path d="M39 380.8H42.3" stroke="#2a2a2a" stroke-width="1"/>
<text x="36" y="383.8" class="tl" text-anchor="end">0</text>
<path d="M39 349.65H42.3" stroke="#2a2a2a" stroke-width="1"/>
<text x="36" y="352.65" class="tl" text-anchor="end">50</text>
<path d="M39 318.5H42.3" stroke="#2a2a2a" stroke-width="1"/>
<text x="36" y="321.5" class="tl" text-anchor="end">100</text>
<path d="M42.3 380.8V383.4" stroke="#2a2a2a" stroke-width="1"/>
<text x="42.3" y="395.2" class="tl" text-anchor="middle">0.1</text>
<path d="M71.56 380.8V383.4" stroke="#2a2a2a" stroke-width="1"/>
<text x="71.56" y="395.2" class="tl" text-anchor="middle">1</text>
<path d="M100.82 380.8V383.4" stroke="#2a2a2a" stroke-width="1"/>
<text x="100.82" y="395.2" class="tl" text-anchor="middle">10</text>
<path d="M130.09 380.8V383.4" stroke="#2a2a2a" stroke-width="1"/>
<text x="130.09" y="395.2" class="tl" text-anchor="middle">100</text>
<path d="M159.35 380.8V383.4" stroke="#2a2a2a" stroke-width="1"/>
<text x="159.35" y="395.2" class="tl" text-anchor="middle">1000</text>
<path d="M42.3 380.43 L43.18 380.43 L44.06 380.43 L44.94 380.43 L45.81 380.43 L46.69 380.43 L47.57 380.43 L48.45 380.43 L49.33 380.43 L50.21 380.43 L51.08 380.43 L51.96 380.43 L52.84 380.43 L53.72 380.43 L54.6 380.42 L55.48 380.42 L56.35 380.42 L57.23 380.42 L58.11 380.42 L58.99 380.42 L59.87 380.42 L60.75 380.41 L61.62 380.41 L62.5 380.41 L63.38 380.41 L64.26 380.4 L65.14 380.4 L66.02 380.39 L66.89 380.39 L67.77 380.38 L68.65 380.38 L69.53 380.37 L70.41 380.36 L71.29 380.35 L72.16 380.34 L73.04 380.33 L73.92 380.31 L74.8 380.3 L75.68 380.28 L76.56 380.25 L77.44 380.23 L78.31 380.2 L79.19 380.17 L80.07 380.14 L80.95 380.09 L81.83 380.05 L82.71 380 L83.58 379.93 L84.46 379.87 L85.34 379.79 L86.22 379.7 L87.1 379.6 L87.98 379.49 L88.85 379.36 L89.73 379.21 L90.61 379.05 L91.49 378.86 L92.37 378.65 L93.25 378.41 L94.12 378.14 L95 377.84 L95.88 377.5 L96.76 377.11 L97.64 376.68 L98.52 376.2 L99.39 375.66 L100.27 375.06 L101.15 374.39 L102.03 373.65 L102.91 372.83 L103.79 371.93 L104.66 370.94 L105.54 369.86 L106.42 368.69 L107.3 367.42 L108.18 366.06 L109.06 364.6 L109.94 363.06 L110.81 361.43 L111.69 359.72 L112.57 357.95 L113.45 356.13 L114.33 354.26 L115.21 352.37 L116.08 350.47 L116.96 348.57 L117.84 346.69 L118.72 344.85 L119.6 343.07 L120.48 341.34 L121.35 339.69 L122.23 338.12 L123.11 336.64 L123.99 335.25 L124.87 333.95 L125.75 332.75 L126.62 331.64 L127.5 330.63 L128.38 329.7 L129.26 328.86 L130.14 328.09 L131.02 327.4 L131.89 326.78 L132.77 326.23 L133.65 325.73 L134.53 325.28 L135.41 324.88 L136.29 324.53 L137.16 324.22 L138.04 323.94 L138.92 323.69 L139.8 323.47 L140.68 323.28 L141.56 323.11 L142.44 322.96 L143.31 322.82 L144.19 322.7 L145.07 322.6 L145.95 322.51 L146.83 322.43 L147.71 322.36" fill="none" stroke="#2b5282" stroke-width="1.05"/>
<circle cx="68.43" cy="379.4" r="1.25" fill="#1c2b40"/>
<circle cx="77.23" cy="379.2" r="1.25" fill="#1c2b40"/>
<circle cx="86.04" cy="378.7" r="1.25" fill="#1c2b40"/>
<circle cx="94.85" cy="378.2" r="1.25" fill="#1c2b40"/>
<path d="M103.66 373V378.2M102.66 373H104.66M102.66 378.2H104.66" stroke="#4a6d93" stroke-width="1.1"/>
<circle cx="103.66" cy="374.9" r="1.25" fill="#1c2b40"/>
<path d="M112.47 348V367.5M111.47 348H113.47M111.47 367.5H113.47" stroke="#4a6d93" stroke-width="1.1"/>
<circle cx="112.47" cy="357.5" r="1.25" fill="#1c2b40"/>
<path d="M121.28 327.2V349.3M120.28 327.2H122.28M120.28 349.3H122.28" stroke="#4a6d93" stroke-width="1.1"/>
<circle cx="121.28" cy="338.1" r="1.25" fill="#1c2b40"/>
<path d="M130.09 324.8V338.4M129.09 324.8H131.09M129.09 338.4H131.09" stroke="#4a6d93" stroke-width="1.1"/>
<circle cx="130.09" cy="331.9" r="1.25" fill="#1c2b40"/>
<path d="M138.9 321.7V332.4M137.9 321.7H139.9M137.9 332.4H139.9" stroke="#4a6d93" stroke-width="1.1"/>
<circle cx="138.9" cy="326.6" r="1.25" fill="#1c2b40"/>
<path d="M147.71 310.9V322.3M146.71 310.9H148.71M146.71 322.3H148.71" stroke="#4a6d93" stroke-width="1.1"/>
<circle cx="147.71" cy="316.7" r="1.25" fill="#1c2b40"/>
<path d="M39.3 380.8H45.3M42.3 378.8V382.6" stroke="#8a1a3c" stroke-width="1.7"/>
<rect x="45.5" y="286.75" width="8.5" height="8.25" fill="none" stroke="#333" stroke-width="0.9"/>
<text x="49.75" y="293.52" class="bn" text-anchor="middle">7</text>
<text x="130.2" y="303.5" class="r2">R<tspan class="sup" dy="-1.8">2</tspan><tspan dy="1.8"> 0.8154</tspan></text>
<text transform="translate(15.3 341.75) rotate(-90)" class="yl" text-anchor="middle" textLength="32" lengthAdjust="spacingAndGlyphs">% Survival</text>
<text x="102.1" y="409" class="al" text-anchor="middle" textLength="108.7" lengthAdjust="spacingAndGlyphs">Concentration eculizumab (μg/mL)</text>
<rect x="214" y="377.9" width="52.31" height="2.8" fill="#a9b7ca"/>
<path d="M214 300.2V380.7H333.6" fill="none" stroke="#2a2a2a" stroke-width="1.25"/>
<path d="M210.7 380.7H214" stroke="#2a2a2a" stroke-width="1"/>
<text x="207.7" y="383.7" class="tl" text-anchor="end">0</text>
<path d="M210.7 341.85H214" stroke="#2a2a2a" stroke-width="1"/>
<text x="207.7" y="344.85" class="tl" text-anchor="end">50</text>
<path d="M210.7 303H214" stroke="#2a2a2a" stroke-width="1"/>
<text x="207.7" y="306" class="tl" text-anchor="end">100</text>
<path d="M214 380.7V383.3" stroke="#2a2a2a" stroke-width="1"/>
<text x="214" y="395.1" class="tl" text-anchor="middle">0.1</text>
<path d="M243.12 380.7V383.3" stroke="#2a2a2a" stroke-width="1"/>
<text x="243.12" y="395.1" class="tl" text-anchor="middle">1</text>
<path d="M272.25 380.7V383.3" stroke="#2a2a2a" stroke-width="1"/>
<text x="272.25" y="395.1" class="tl" text-anchor="middle">10</text>
<path d="M301.38 380.7V383.3" stroke="#2a2a2a" stroke-width="1"/>
<text x="301.38" y="395.1" class="tl" text-anchor="middle">100</text>
<path d="M330.5 380.7V383.3" stroke="#2a2a2a" stroke-width="1"/>
<text x="330.5" y="395.1" class="tl" text-anchor="middle">1000</text>
<path d="M214 378.59 L214.87 378.59 L215.75 378.59 L216.62 378.59 L217.5 378.59 L218.37 378.59 L219.25 378.59 L220.12 378.59 L220.99 378.59 L221.87 378.59 L222.74 378.59 L223.62 378.59 L224.49 378.59 L225.37 378.59 L226.24 378.59 L227.11 378.59 L227.99 378.59 L228.86 378.59 L229.74 378.58 L230.61 378.58 L231.48 378.58 L232.36 378.58 L233.23 378.58 L234.11 378.58 L234.98 378.58 L235.86 378.58 L236.73 378.58 L237.6 378.58 L238.48 378.58 L239.35 378.57 L240.23 378.57 L241.1 378.57 L241.98 378.56 L242.85 378.56 L243.72 378.56 L244.6 378.55 L245.47 378.55 L246.35 378.54 L247.22 378.53 L248.1 378.52 L248.97 378.51 L249.84 378.5 L250.72 378.48 L251.59 378.46 L252.47 378.44 L253.34 378.42 L254.22 378.39 L255.09 378.36 L255.96 378.32 L256.84 378.28 L257.71 378.23 L258.59 378.17 L259.46 378.1 L260.34 378.02 L261.21 377.92 L262.08 377.81 L262.96 377.69 L263.83 377.54 L264.71 377.37 L265.58 377.18 L266.45 376.95 L267.33 376.69 L268.2 376.39 L269.08 376.04 L269.95 375.64 L270.83 375.18 L271.7 374.65 L272.57 374.05 L273.45 373.37 L274.32 372.6 L275.2 371.73 L276.07 370.75 L276.95 369.66 L277.82 368.45 L278.69 367.12 L279.57 365.66 L280.44 364.08 L281.32 362.37 L282.19 360.56 L283.07 358.64 L283.94 356.64 L284.81 354.57 L285.69 352.46 L286.56 350.33 L287.44 348.21 L288.31 346.11 L289.19 344.07 L290.06 342.1 L290.93 340.23 L291.81 338.46 L292.68 336.81 L293.56 335.28 L294.43 333.87 L295.31 332.59 L296.18 331.43 L297.05 330.39 L297.93 329.46 L298.8 328.64 L299.68 327.91 L300.55 327.26 L301.42 326.69 L302.3 326.2 L303.17 325.77 L304.05 325.39 L304.92 325.06 L305.8 324.78 L306.67 324.53 L307.54 324.32 L308.42 324.13 L309.29 323.97 L310.17 323.84 L311.04 323.72 L311.92 323.62 L312.79 323.53 L313.66 323.45 L314.54 323.39 L315.41 323.33 L316.29 323.29 L317.16 323.24 L318.04 323.21 L318.91 323.18" fill="none" stroke="#2b5282" stroke-width="1.05"/>
<path d="M240 377.1V380.1M239 377.1H241M239 380.1H241" stroke="#4a6d93" stroke-width="1.1"/>
<circle cx="240" cy="378.5" r="1.25" fill="#1c2b40"/>
<path d="M248.77 377.1V380.1M247.77 377.1H249.77M247.77 380.1H249.77" stroke="#4a6d93" stroke-width="1.1"/>
<circle cx="248.77" cy="378.5" r="1.25" fill="#1c2b40"/>
<path d="M257.54 377.1V380.1M256.54 377.1H258.54M256.54 380.1H258.54" stroke="#4a6d93" stroke-width="1.1"/>
<circle cx="257.54" cy="378.5" r="1.25" fill="#1c2b40"/>
<path d="M266.31 375.5V379.2M265.31 375.5H267.31M265.31 379.2H267.31" stroke="#4a6d93" stroke-width="1.1"/>
<circle cx="266.31" cy="377.4" r="1.25" fill="#1c2b40"/>
<path d="M275.07 373V378.2M274.07 373H276.07M274.07 378.2H276.07" stroke="#4a6d93" stroke-width="1.1"/>
<circle cx="275.07" cy="374.9" r="1.25" fill="#1c2b40"/>
<path d="M283.84 339.4V363.1M282.84 339.4H284.84M282.84 363.1H284.84" stroke="#4a6d93" stroke-width="1.1"/>
<circle cx="283.84" cy="351.4" r="1.25" fill="#1c2b40"/>
<path d="M292.61 328.5V355.1M291.61 328.5H293.61M291.61 355.1H293.61" stroke="#4a6d93" stroke-width="1.1"/>
<circle cx="292.61" cy="341.5" r="1.25" fill="#1c2b40"/>
<path d="M301.38 309.3V325.4M300.38 309.3H302.38M300.38 325.4H302.38" stroke="#4a6d93" stroke-width="1.1"/>
<circle cx="301.38" cy="317.3" r="1.25" fill="#1c2b40"/>
<path d="M310.14 329.5V340.2M309.14 329.5H311.14M309.14 340.2H311.14" stroke="#4a6d93" stroke-width="1.1"/>
<circle cx="310.14" cy="334.7" r="1.25" fill="#1c2b40"/>
<path d="M318.91 313.6V322.9M317.91 313.6H319.91M317.91 322.9H319.91" stroke="#4a6d93" stroke-width="1.1"/>
<circle cx="318.91" cy="318.6" r="1.25" fill="#1c2b40"/>
<path d="M211 380.7H217M214 378.7V382.5" stroke="#8a1a3c" stroke-width="1.7"/>
<rect x="206.9" y="286.5" width="7.8" height="8.8" fill="none" stroke="#333" stroke-width="0.9"/>
<text x="210.8" y="293.55" class="bn" text-anchor="middle">8</text>
<text x="303.7" y="304.8" class="r2">R<tspan class="sup" dy="-1.8">2</tspan><tspan dy="1.8"> 0.7491</tspan></text>
<text transform="translate(187 340.45) rotate(-90)" class="yl" text-anchor="middle" textLength="32" lengthAdjust="spacingAndGlyphs">% Survival</text>
<text x="273.8" y="409" class="al" text-anchor="middle" textLength="108.7" lengthAdjust="spacingAndGlyphs">Concentration eculizumab (μg/mL)</text>
<path d="M385.85 300.2V380.8H506.45" fill="none" stroke="#2a2a2a" stroke-width="1.25"/>
<path d="M382.55 380.8H385.85" stroke="#2a2a2a" stroke-width="1"/>
<text x="379.55" y="383.8" class="tl" text-anchor="end">0</text>
<path d="M382.55 341.85H385.85" stroke="#2a2a2a" stroke-width="1"/>
<text x="379.55" y="344.85" class="tl" text-anchor="end">50</text>
<path d="M382.55 302.9H385.85" stroke="#2a2a2a" stroke-width="1"/>
<text x="379.55" y="305.9" class="tl" text-anchor="end">100</text>
<path d="M385.85 380.8V383.4" stroke="#2a2a2a" stroke-width="1"/>
<text x="385.85" y="395.2" class="tl" text-anchor="middle">0.1</text>
<path d="M415.23 380.8V383.4" stroke="#2a2a2a" stroke-width="1"/>
<text x="415.23" y="395.2" class="tl" text-anchor="middle">1</text>
<path d="M444.6 380.8V383.4" stroke="#2a2a2a" stroke-width="1"/>
<text x="444.6" y="395.2" class="tl" text-anchor="middle">10</text>
<path d="M473.98 380.8V383.4" stroke="#2a2a2a" stroke-width="1"/>
<text x="473.98" y="395.2" class="tl" text-anchor="middle">100</text>
<path d="M503.35 380.8V383.4" stroke="#2a2a2a" stroke-width="1"/>
<text x="503.35" y="395.2" class="tl" text-anchor="middle">1000</text>
<path d="M385.85 380.44 L386.73 380.44 L387.61 380.44 L388.5 380.44 L389.38 380.44 L390.26 380.44 L391.14 380.44 L392.02 380.44 L392.9 380.44 L393.79 380.44 L394.67 380.44 L395.55 380.44 L396.43 380.44 L397.31 380.44 L398.19 380.44 L399.08 380.44 L399.96 380.44 L400.84 380.44 L401.72 380.44 L402.6 380.44 L403.49 380.44 L404.37 380.44 L405.25 380.44 L406.13 380.44 L407.01 380.44 L407.89 380.44 L408.78 380.44 L409.66 380.44 L410.54 380.44 L411.42 380.44 L412.3 380.44 L413.18 380.44 L414.07 380.44 L414.95 380.44 L415.83 380.44 L416.71 380.44 L417.59 380.44 L418.47 380.44 L419.36 380.43 L420.24 380.43 L421.12 380.43 L422 380.43 L422.88 380.43 L423.77 380.42 L424.65 380.42 L425.53 380.42 L426.41 380.41 L427.29 380.41 L428.17 380.4 L429.06 380.4 L429.94 380.39 L430.82 380.38 L431.7 380.37 L432.58 380.35 L433.46 380.34 L434.35 380.32 L435.23 380.3 L436.11 380.27 L436.99 380.25 L437.87 380.21 L438.76 380.17 L439.64 380.12 L440.52 380.07 L441.4 380 L442.28 379.93 L443.16 379.84 L444.05 379.74 L444.93 379.61 L445.81 379.47 L446.69 379.3 L447.57 379.11 L448.45 378.88 L449.34 378.62 L450.22 378.31 L451.1 377.96 L451.98 377.55 L452.86 377.07 L453.75 376.52 L454.63 375.89 L455.51 375.17 L456.39 374.34 L457.27 373.4 L458.15 372.34 L459.04 371.15 L459.92 369.82 L460.8 368.35 L461.68 366.73 L462.56 364.96 L463.44 363.06 L464.33 361.03 L465.21 358.88 L466.09 356.64 L466.97 354.33 L467.85 351.97 L468.73 349.61 L469.62 347.26 L470.5 344.96 L471.38 342.73 L472.26 340.6 L473.14 338.59 L474.03 336.72 L474.91 334.98 L475.79 333.39 L476.67 331.94 L477.55 330.64 L478.43 329.48 L479.32 328.44 L480.2 327.52 L481.08 326.72 L481.96 326.01 L482.84 325.4 L483.72 324.86 L484.61 324.4 L485.49 324 L486.37 323.65 L487.25 323.36 L488.13 323.1 L489.02 322.88 L489.9 322.69 L490.78 322.53 L491.66 322.39" fill="none" stroke="#2b5282" stroke-width="1.05"/>
<circle cx="412.08" cy="379.8" r="1.25" fill="#1c2b40"/>
<circle cx="420.92" cy="379.8" r="1.25" fill="#1c2b40"/>
<circle cx="429.76" cy="380.2" r="1.25" fill="#1c2b40"/>
<circle cx="438.6" cy="380" r="1.25" fill="#1c2b40"/>
<circle cx="447.45" cy="379.8" r="1.25" fill="#1c2b40"/>
<path d="M456.29 373V376.5M455.29 373H457.29M455.29 376.5H457.29" stroke="#4a6d93" stroke-width="1.1"/>
<circle cx="456.29" cy="374.9" r="1.25" fill="#1c2b40"/>
<path d="M465.13 353.8V360.6M464.13 353.8H466.13M464.13 360.6H466.13" stroke="#4a6d93" stroke-width="1.1"/>
<circle cx="465.13" cy="357.5" r="1.25" fill="#1c2b40"/>
<path d="M473.98 325.4V352M472.98 325.4H474.98M472.98 352H474.98" stroke="#4a6d93" stroke-width="1.1"/>
<circle cx="473.98" cy="339" r="1.25" fill="#1c2b40"/>
<path d="M482.82 310.5V334M481.82 310.5H483.82M481.82 334H483.82" stroke="#4a6d93" stroke-width="1.1"/>
<circle cx="482.82" cy="322.3" r="1.25" fill="#1c2b40"/>
<path d="M491.66 314.6V334M490.66 314.6H492.66M490.66 334H492.66" stroke="#4a6d93" stroke-width="1.1"/>
<circle cx="491.66" cy="324.1" r="1.25" fill="#1c2b40"/>
<path d="M382.85 380.8H388.85M385.85 378.8V382.6" stroke="#8a1a3c" stroke-width="1.7"/>
<rect x="389.4" y="286.3" width="7.9" height="9" fill="none" stroke="#333" stroke-width="0.9"/>
<text x="393.35" y="293.45" class="bn" text-anchor="middle">9</text>
<text x="473.7" y="304.1" class="r2">R<tspan class="sup" dy="-1.8">2</tspan><tspan dy="1.8"> 0.8028</tspan></text>
<text transform="translate(358.85 340.5) rotate(-90)" class="yl" text-anchor="middle" textLength="32" lengthAdjust="spacingAndGlyphs">% Survival</text>
<text x="445.65" y="409" class="al" text-anchor="middle" textLength="108.7" lengthAdjust="spacingAndGlyphs">Concentration eculizumab (μg/mL)</text>
<path d="M42.3 438.8V517.2H162.3" fill="none" stroke="#2a2a2a" stroke-width="1.25"/>
<path d="M39 517.2H42.3" stroke="#2a2a2a" stroke-width="1"/>
<text x="36" y="520.2" class="tl" text-anchor="end">0</text>
<path d="M39 486.1H42.3" stroke="#2a2a2a" stroke-width="1"/>
<text x="36" y="489.1" class="tl" text-anchor="end">50</text>
<path d="M39 455H42.3" stroke="#2a2a2a" stroke-width="1"/>
<text x="36" y="458" class="tl" text-anchor="end">100</text>
<path d="M42.3 517.2V519.8" stroke="#2a2a2a" stroke-width="1"/>
<text x="42.3" y="531.6" class="tl" text-anchor="middle">0.1</text>
<path d="M71.53 517.2V519.8" stroke="#2a2a2a" stroke-width="1"/>
<text x="71.53" y="531.6" class="tl" text-anchor="middle">1</text>
<path d="M100.75 517.2V519.8" stroke="#2a2a2a" stroke-width="1"/>
<text x="100.75" y="531.6" class="tl" text-anchor="middle">10</text>
<path d="M129.98 517.2V519.8" stroke="#2a2a2a" stroke-width="1"/>
<text x="129.98" y="531.6" class="tl" text-anchor="middle">100</text>
<path d="M159.2 517.2V519.8" stroke="#2a2a2a" stroke-width="1"/>
<text x="159.2" y="531.6" class="tl" text-anchor="middle">1000</text>
<path d="M42.3 516.15 L43.18 516.15 L44.05 516.15 L44.93 516.15 L45.81 516.15 L46.69 516.15 L47.56 516.15 L48.44 516.15 L49.32 516.15 L50.2 516.15 L51.07 516.15 L51.95 516.15 L52.83 516.15 L53.7 516.15 L54.58 516.15 L55.46 516.15 L56.34 516.15 L57.21 516.15 L58.09 516.15 L58.97 516.14 L59.85 516.14 L60.72 516.14 L61.6 516.14 L62.48 516.14 L63.35 516.14 L64.23 516.14 L65.11 516.14 L65.99 516.14 L66.86 516.14 L67.74 516.14 L68.62 516.14 L69.49 516.14 L70.37 516.14 L71.25 516.14 L72.13 516.14 L73 516.14 L73.88 516.14 L74.76 516.14 L75.64 516.14 L76.51 516.14 L77.39 516.14 L78.27 516.14 L79.14 516.13 L80.02 516.13 L80.9 516.13 L81.78 516.13 L82.65 516.12 L83.53 516.12 L84.41 516.12 L85.29 516.11 L86.16 516.1 L87.04 516.1 L87.92 516.09 L88.79 516.08 L89.67 516.07 L90.55 516.06 L91.43 516.04 L92.3 516.02 L93.18 516 L94.06 515.98 L94.94 515.95 L95.81 515.92 L96.69 515.88 L97.57 515.84 L98.44 515.79 L99.32 515.73 L100.2 515.65 L101.08 515.57 L101.95 515.48 L102.83 515.36 L103.71 515.23 L104.58 515.08 L105.46 514.91 L106.34 514.7 L107.22 514.46 L108.09 514.18 L108.97 513.86 L109.85 513.49 L110.73 513.07 L111.6 512.58 L112.48 512.01 L113.36 511.36 L114.23 510.62 L115.11 509.78 L115.99 508.83 L116.87 507.76 L117.74 506.55 L118.62 505.21 L119.5 503.72 L120.38 502.08 L121.25 500.3 L122.13 498.37 L123.01 496.31 L123.88 494.13 L124.76 491.84 L125.64 489.46 L126.52 487.03 L127.39 484.57 L128.27 482.11 L129.15 479.68 L130.03 477.32 L130.9 475.03 L131.78 472.85 L132.66 470.8 L133.53 468.88 L134.41 467.11 L135.29 465.49 L136.17 464.01 L137.04 462.68 L137.92 461.48 L138.8 460.42 L139.67 459.47 L140.55 458.64 L141.43 457.91 L142.31 457.26 L143.18 456.7 L144.06 456.22 L144.94 455.79 L145.82 455.43 L146.69 455.11 L147.57 454.84" fill="none" stroke="#2b5282" stroke-width="1.05"/>
<circle cx="68.39" cy="515.8" r="1.25" fill="#1c2b40"/>
<circle cx="77.19" cy="515.8" r="1.25" fill="#1c2b40"/>
<circle cx="85.99" cy="515.8" r="1.25" fill="#1c2b40"/>
<circle cx="94.78" cy="515.8" r="1.25" fill="#1c2b40"/>
<path d="M103.58 509.9V515.2M102.58 509.9H104.58M102.58 515.2H104.58" stroke="#4a6d93" stroke-width="1.1"/>
<circle cx="103.58" cy="512.7" r="1.25" fill="#1c2b40"/>
<path d="M112.38 511.1V514.2M111.38 511.1H113.38M111.38 514.2H113.38" stroke="#4a6d93" stroke-width="1.1"/>
<circle cx="112.38" cy="512.4" r="1.25" fill="#1c2b40"/>
<path d="M121.18 488.5V509.5M120.18 488.5H122.18M120.18 509.5H122.18" stroke="#4a6d93" stroke-width="1.1"/>
<circle cx="121.18" cy="498.7" r="1.25" fill="#1c2b40"/>
<path d="M129.98 464.7V489.2M128.98 464.7H130.98M128.98 489.2H130.98" stroke="#4a6d93" stroke-width="1.1"/>
<circle cx="129.98" cy="477.1" r="1.25" fill="#1c2b40"/>
<path d="M138.77 443.4V477.1M137.77 443.4H139.77M137.77 477.1H139.77" stroke="#4a6d93" stroke-width="1.1"/>
<circle cx="138.77" cy="460.4" r="1.25" fill="#1c2b40"/>
<path d="M147.57 440.9V469.9M146.57 440.9H148.57M146.57 469.9H148.57" stroke="#4a6d93" stroke-width="1.1"/>
<circle cx="147.57" cy="455" r="1.25" fill="#1c2b40"/>
<path d="M39.3 517.2H45.3M42.3 515.2V519" stroke="#8a1a3c" stroke-width="1.7"/>
<rect x="45.7" y="420.9" width="10.7" height="9" fill="none" stroke="#333" stroke-width="0.9"/>
<text x="51.05" y="428.05" class="bn" text-anchor="middle">10</text>
<text x="130.5" y="439.5" class="r2">R<tspan class="sup" dy="-1.8">2</tspan><tspan dy="1.8"> 0.7160</tspan></text>
<text transform="translate(15.3 478) rotate(-90)" class="yl" text-anchor="middle" textLength="32" lengthAdjust="spacingAndGlyphs">% Survival</text>
<text x="102.1" y="545" class="al" text-anchor="middle" textLength="110.45" lengthAdjust="spacingAndGlyphs">Concentration ravulizumab (μg/mL)</text>
<path d="M214 436.7V517.15H333.4" fill="none" stroke="#2a2a2a" stroke-width="1.25"/>
<path d="M210.7 517.15H214" stroke="#2a2a2a" stroke-width="1"/>
<text x="207.7" y="520.15" class="tl" text-anchor="end">0</text>
<path d="M210.7 478.32H214" stroke="#2a2a2a" stroke-width="1"/>
<text x="207.7" y="481.32" class="tl" text-anchor="end">50</text>
<path d="M210.7 439.5H214" stroke="#2a2a2a" stroke-width="1"/>
<text x="207.7" y="442.5" class="tl" text-anchor="end">100</text>
<path d="M214 517.15V519.75" stroke="#2a2a2a" stroke-width="1"/>
<text x="214" y="531.55" class="tl" text-anchor="middle">0.1</text>
<path d="M243.07 517.15V519.75" stroke="#2a2a2a" stroke-width="1"/>
<text x="243.07" y="531.55" class="tl" text-anchor="middle">1</text>
<path d="M272.15 517.15V519.75" stroke="#2a2a2a" stroke-width="1"/>
<text x="272.15" y="531.55" class="tl" text-anchor="middle">10</text>
<path d="M301.23 517.15V519.75" stroke="#2a2a2a" stroke-width="1"/>
<text x="301.23" y="531.55" class="tl" text-anchor="middle">100</text>
<path d="M330.3 517.15V519.75" stroke="#2a2a2a" stroke-width="1"/>
<text x="330.3" y="531.55" class="tl" text-anchor="middle">1000</text>
<path d="M214 516.7 L214.87 516.7 L215.75 516.7 L216.62 516.7 L217.49 516.7 L218.36 516.7 L219.24 516.7 L220.11 516.7 L220.98 516.7 L221.85 516.7 L222.73 516.7 L223.6 516.7 L224.47 516.7 L225.35 516.7 L226.22 516.7 L227.09 516.7 L227.96 516.7 L228.84 516.7 L229.71 516.7 L230.58 516.69 L231.45 516.69 L232.33 516.69 L233.2 516.69 L234.07 516.69 L234.95 516.69 L235.82 516.69 L236.69 516.69 L237.56 516.69 L238.44 516.69 L239.31 516.69 L240.18 516.69 L241.06 516.69 L241.93 516.69 L242.8 516.69 L243.67 516.69 L244.55 516.68 L245.42 516.68 L246.29 516.68 L247.16 516.68 L248.04 516.67 L248.91 516.67 L249.78 516.66 L250.66 516.66 L251.53 516.65 L252.4 516.64 L253.27 516.63 L254.15 516.62 L255.02 516.61 L255.89 516.59 L256.76 516.57 L257.64 516.54 L258.51 516.51 L259.38 516.48 L260.26 516.43 L261.13 516.38 L262 516.32 L262.87 516.25 L263.75 516.17 L264.62 516.06 L265.49 515.94 L266.36 515.8 L267.24 515.63 L268.11 515.43 L268.98 515.18 L269.86 514.9 L270.73 514.56 L271.6 514.17 L272.47 513.7 L273.35 513.15 L274.22 512.51 L275.09 511.76 L275.97 510.9 L276.84 509.9 L277.71 508.76 L278.58 507.45 L279.46 505.98 L280.33 504.33 L281.2 502.5 L282.07 500.5 L282.95 498.32 L283.82 496 L284.69 493.55 L285.57 491 L286.44 488.38 L287.31 485.75 L288.18 483.14 L289.06 480.59 L289.93 478.14 L290.8 475.81 L291.67 473.64 L292.55 471.63 L293.42 469.8 L294.29 468.15 L295.17 466.67 L296.04 465.37 L296.91 464.22 L297.78 463.22 L298.66 462.36 L299.53 461.61 L300.4 460.97 L301.27 460.42 L302.15 459.95 L303.02 459.55 L303.89 459.22 L304.77 458.93 L305.64 458.69 L306.51 458.49 L307.38 458.32 L308.26 458.17 L309.13 458.05 L310 457.95 L310.88 457.86 L311.75 457.79 L312.62 457.73 L313.49 457.68 L314.37 457.64 L315.24 457.6 L316.11 457.57 L316.98 457.55 L317.86 457.53 L318.73 457.51" fill="none" stroke="#2b5282" stroke-width="1.05"/>
<circle cx="239.96" cy="516.4" r="1.25" fill="#1c2b40"/>
<circle cx="248.71" cy="516" r="1.25" fill="#1c2b40"/>
<path d="M257.46 514.6V516.2M256.46 514.6H258.46M256.46 516.2H258.46" stroke="#4a6d93" stroke-width="1.1"/>
<circle cx="257.46" cy="515.3" r="1.25" fill="#1c2b40"/>
<path d="M266.22 512V514.8M265.22 512H267.22M265.22 514.8H267.22" stroke="#4a6d93" stroke-width="1.1"/>
<circle cx="266.22" cy="513.2" r="1.25" fill="#1c2b40"/>
<path d="M274.97 509.5V514.2M273.97 509.5H275.97M273.97 514.2H275.97" stroke="#4a6d93" stroke-width="1.1"/>
<circle cx="274.97" cy="511.7" r="1.25" fill="#1c2b40"/>
<path d="M283.72 485.1V504.3M282.72 485.1H284.72M282.72 504.3H284.72" stroke="#4a6d93" stroke-width="1.1"/>
<circle cx="283.72" cy="495" r="1.25" fill="#1c2b40"/>
<path d="M292.47 466.9V473.4M291.47 466.9H293.47M291.47 473.4H293.47" stroke="#4a6d93" stroke-width="1.1"/>
<circle cx="292.47" cy="469.7" r="1.25" fill="#1c2b40"/>
<path d="M301.23 462.5V466.6M300.23 462.5H302.23M300.23 466.6H302.23" stroke="#4a6d93" stroke-width="1.1"/>
<circle cx="301.23" cy="464.1" r="1.25" fill="#1c2b40"/>
<path d="M309.98 450.5V472.4M308.98 450.5H310.98M308.98 472.4H310.98" stroke="#4a6d93" stroke-width="1.1"/>
<circle cx="309.98" cy="461.6" r="1.25" fill="#1c2b40"/>
<path d="M318.73 447.6V459.5M317.73 447.6H319.73M317.73 459.5H319.73" stroke="#4a6d93" stroke-width="1.1"/>
<circle cx="318.73" cy="453.6" r="1.25" fill="#1c2b40"/>
<path d="M211 517.15H217M214 515.15V518.95" stroke="#8a1a3c" stroke-width="1.7"/>
<rect x="217.4" y="420.9" width="9.8" height="8.8" fill="none" stroke="#333" stroke-width="0.9"/>
<text x="222.3" y="427.95" class="bn" text-anchor="middle">11</text>
<text x="303.3" y="439.7" class="r2">R<tspan class="sup" dy="-1.8">2</tspan><tspan dy="1.8"> 0.9388</tspan></text>
<text transform="translate(187 476.92) rotate(-90)" class="yl" text-anchor="middle" textLength="32" lengthAdjust="spacingAndGlyphs">% Survival</text>
<text x="273.8" y="545" class="al" text-anchor="middle" textLength="110.45" lengthAdjust="spacingAndGlyphs">Concentration ravulizumab (μg/mL)</text>
<path d="M386 437.3V517H504.7" fill="none" stroke="#2a2a2a" stroke-width="1.25"/>
<path d="M382.7 517H386" stroke="#2a2a2a" stroke-width="1"/>
<text x="379.7" y="520" class="tl" text-anchor="end">0</text>
<path d="M382.7 478.4H386" stroke="#2a2a2a" stroke-width="1"/>
<text x="379.7" y="481.4" class="tl" text-anchor="end">50</text>
<path d="M382.7 439.8H386" stroke="#2a2a2a" stroke-width="1"/>
<text x="379.7" y="442.8" class="tl" text-anchor="end">100</text>
<path d="M386 517V519.6" stroke="#2a2a2a" stroke-width="1"/>
<text x="386" y="531.4" class="tl" text-anchor="middle">0.1</text>
<path d="M414.9 517V519.6" stroke="#2a2a2a" stroke-width="1"/>
<text x="414.9" y="531.4" class="tl" text-anchor="middle">1</text>
<path d="M443.8 517V519.6" stroke="#2a2a2a" stroke-width="1"/>
<text x="443.8" y="531.4" class="tl" text-anchor="middle">10</text>
<path d="M472.7 517V519.6" stroke="#2a2a2a" stroke-width="1"/>
<text x="472.7" y="531.4" class="tl" text-anchor="middle">100</text>
<path d="M501.6 517V519.6" stroke="#2a2a2a" stroke-width="1"/>
<text x="501.6" y="531.4" class="tl" text-anchor="middle">1000</text>
<path d="M386 516.44 L386.87 516.44 L387.73 516.44 L388.6 516.44 L389.47 516.44 L390.34 516.44 L391.2 516.44 L392.07 516.44 L392.94 516.44 L393.81 516.44 L394.67 516.44 L395.54 516.44 L396.41 516.44 L397.28 516.44 L398.14 516.44 L399.01 516.44 L399.88 516.44 L400.75 516.44 L401.61 516.44 L402.48 516.44 L403.35 516.44 L404.22 516.44 L405.08 516.44 L405.95 516.44 L406.82 516.44 L407.69 516.44 L408.55 516.44 L409.42 516.44 L410.29 516.44 L411.16 516.44 L412.02 516.44 L412.89 516.44 L413.76 516.44 L414.63 516.44 L415.49 516.44 L416.36 516.44 L417.23 516.44 L418.1 516.44 L418.96 516.44 L419.83 516.44 L420.7 516.44 L421.57 516.44 L422.43 516.43 L423.3 516.43 L424.17 516.43 L425.04 516.43 L425.9 516.43 L426.77 516.43 L427.64 516.43 L428.51 516.42 L429.37 516.42 L430.24 516.42 L431.11 516.41 L431.98 516.41 L432.84 516.4 L433.71 516.39 L434.58 516.38 L435.45 516.36 L436.31 516.35 L437.18 516.32 L438.05 516.3 L438.92 516.26 L439.78 516.22 L440.65 516.17 L441.52 516.11 L442.39 516.03 L443.25 515.93 L444.12 515.82 L444.99 515.67 L445.86 515.49 L446.72 515.28 L447.59 515.01 L448.46 514.69 L449.33 514.29 L450.19 513.82 L451.06 513.25 L451.93 512.58 L452.8 511.78 L453.66 510.84 L454.53 509.76 L455.4 508.53 L456.27 507.14 L457.13 505.61 L458 503.95 L458.87 502.18 L459.74 500.35 L460.6 498.48 L461.47 496.62 L462.34 494.82 L463.21 493.1 L464.07 491.5 L464.94 490.05 L465.81 488.74 L466.68 487.59 L467.54 486.58 L468.41 485.72 L469.28 484.98 L470.15 484.37 L471.01 483.85 L471.88 483.42 L472.75 483.06 L473.62 482.77 L474.48 482.53 L475.35 482.33 L476.22 482.17 L477.09 482.04 L477.95 481.94 L478.82 481.85 L479.69 481.78 L480.56 481.73 L481.42 481.68 L482.29 481.64 L483.16 481.61 L484.03 481.59 L484.89 481.57 L485.76 481.55 L486.63 481.54 L487.5 481.53 L488.36 481.52 L489.23 481.52 L490.1 481.51" fill="none" stroke="#2b5282" stroke-width="1.05"/>
<circle cx="411.8" cy="516.3" r="1.25" fill="#1c2b40"/>
<circle cx="420.5" cy="516.3" r="1.25" fill="#1c2b40"/>
<circle cx="429.2" cy="516" r="1.25" fill="#1c2b40"/>
<path d="M437.9 514.2V516.8M436.9 514.2H438.9M436.9 516.8H438.9" stroke="#4a6d93" stroke-width="1.1"/>
<circle cx="437.9" cy="515.4" r="1.25" fill="#1c2b40"/>
<circle cx="446.6" cy="515.2" r="1.25" fill="#1c2b40"/>
<path d="M455.3 501V509.6M454.3 501H456.3M454.3 509.6H456.3" stroke="#4a6d93" stroke-width="1.1"/>
<circle cx="455.3" cy="505.6" r="1.25" fill="#1c2b40"/>
<path d="M464 484.8V498.7M463 484.8H465M463 498.7H465" stroke="#4a6d93" stroke-width="1.1"/>
<circle cx="464" cy="491.2" r="1.25" fill="#1c2b40"/>
<path d="M472.7 470.4V490.9M471.7 470.4H473.7M471.7 490.9H473.7" stroke="#4a6d93" stroke-width="1.1"/>
<circle cx="472.7" cy="480.8" r="1.25" fill="#1c2b40"/>
<path d="M481.4 470.4V484.2M480.4 470.4H482.4M480.4 484.2H482.4" stroke="#4a6d93" stroke-width="1.1"/>
<circle cx="481.4" cy="477.3" r="1.25" fill="#1c2b40"/>
<path d="M490.1 482.5V493.7M489.1 482.5H491.1M489.1 493.7H491.1" stroke="#4a6d93" stroke-width="1.1"/>
<circle cx="490.1" cy="487.9" r="1.25" fill="#1c2b40"/>
<path d="M383 517H389M386 515V518.8" stroke="#8a1a3c" stroke-width="1.7"/>
<rect x="389.6" y="424.7" width="9.7" height="8.5" fill="none" stroke="#333" stroke-width="0.9"/>
<text x="394.45" y="431.6" class="bn" text-anchor="middle">12</text>
<text x="474.1" y="439.5" class="r2">R<tspan class="sup" dy="-1.8">2</tspan><tspan dy="1.8"> 0.7293</tspan></text>
<text transform="translate(359 477.15) rotate(-90)" class="yl" text-anchor="middle" textLength="32" lengthAdjust="spacingAndGlyphs">% Survival</text>
<text x="445.8" y="545" class="al" text-anchor="middle" textLength="110.45" lengthAdjust="spacingAndGlyphs">Concentration ravulizumab (μg/mL)</text>
<path d="M42.3 569.7V649.7H161.4" fill="none" stroke="#2a2a2a" stroke-width="1.25"/>
<path d="M39 649.7H42.3" stroke="#2a2a2a" stroke-width="1"/>
<text x="36" y="652.7" class="tl" text-anchor="end">0</text>
<path d="M39 611.1H42.3" stroke="#2a2a2a" stroke-width="1"/>
<text x="36" y="614.1" class="tl" text-anchor="end">50</text>
<path d="M39 572.5H42.3" stroke="#2a2a2a" stroke-width="1"/>
<text x="36" y="575.5" class="tl" text-anchor="end">100</text>
<path d="M42.3 649.7V652.3" stroke="#2a2a2a" stroke-width="1"/>
<text x="42.3" y="664.1" class="tl" text-anchor="middle">0.1</text>
<path d="M71.3 649.7V652.3" stroke="#2a2a2a" stroke-width="1"/>
<text x="71.3" y="664.1" class="tl" text-anchor="middle">1</text>
<path d="M100.3 649.7V652.3" stroke="#2a2a2a" stroke-width="1"/>
<text x="100.3" y="664.1" class="tl" text-anchor="middle">10</text>
<path d="M129.3 649.7V652.3" stroke="#2a2a2a" stroke-width="1"/>
<text x="129.3" y="664.1" class="tl" text-anchor="middle">100</text>
<path d="M158.3 649.7V652.3" stroke="#2a2a2a" stroke-width="1"/>
<text x="158.3" y="664.1" class="tl" text-anchor="middle">1000</text>
<path d="M42.3 649.52 L43.17 649.52 L44.04 649.52 L44.91 649.52 L45.78 649.52 L46.65 649.52 L47.52 649.52 L48.39 649.52 L49.26 649.52 L50.13 649.52 L51 649.52 L51.88 649.52 L52.75 649.52 L53.62 649.52 L54.49 649.52 L55.36 649.52 L56.23 649.52 L57.1 649.52 L57.97 649.52 L58.84 649.52 L59.71 649.52 L60.58 649.52 L61.45 649.52 L62.32 649.52 L63.19 649.52 L64.06 649.52 L64.93 649.52 L65.8 649.52 L66.67 649.52 L67.54 649.52 L68.41 649.52 L69.29 649.52 L70.16 649.52 L71.03 649.52 L71.9 649.52 L72.77 649.52 L73.64 649.52 L74.51 649.52 L75.38 649.52 L76.25 649.52 L77.12 649.52 L77.99 649.52 L78.86 649.52 L79.73 649.52 L80.6 649.52 L81.47 649.52 L82.34 649.52 L83.21 649.52 L84.08 649.52 L84.95 649.51 L85.82 649.51 L86.7 649.51 L87.57 649.51 L88.44 649.51 L89.31 649.51 L90.18 649.51 L91.05 649.51 L91.92 649.51 L92.79 649.5 L93.66 649.5 L94.53 649.5 L95.4 649.5 L96.27 649.49 L97.14 649.48 L98.01 649.48 L98.88 649.47 L99.75 649.46 L100.62 649.45 L101.49 649.43 L102.36 649.41 L103.23 649.39 L104.11 649.36 L104.98 649.33 L105.85 649.29 L106.72 649.24 L107.59 649.18 L108.46 649.1 L109.33 649.01 L110.2 648.9 L111.07 648.77 L111.94 648.61 L112.81 648.42 L113.68 648.19 L114.55 647.91 L115.42 647.57 L116.29 647.16 L117.16 646.68 L118.03 646.1 L118.9 645.42 L119.77 644.61 L120.64 643.66 L121.52 642.56 L122.39 641.29 L123.26 639.84 L124.13 638.2 L125 636.37 L125.87 634.36 L126.74 632.18 L127.61 629.86 L128.48 627.44 L129.35 624.96 L130.22 622.45 L131.09 619.98 L131.96 617.59 L132.83 615.32 L133.7 613.2 L134.57 611.24 L135.44 609.48 L136.31 607.9 L137.18 606.51 L138.05 605.3 L138.93 604.25 L139.8 603.35 L140.67 602.59 L141.54 601.94 L142.41 601.4 L143.28 600.94 L144.15 600.56 L145.02 600.24 L145.89 599.98 L146.76 599.76" fill="none" stroke="#2b5282" stroke-width="1.05"/>
<circle cx="68.19" cy="649" r="1.25" fill="#1c2b40"/>
<circle cx="76.92" cy="649" r="1.25" fill="#1c2b40"/>
<circle cx="85.65" cy="649" r="1.25" fill="#1c2b40"/>
<circle cx="94.38" cy="649" r="1.25" fill="#1c2b40"/>
<circle cx="103.11" cy="648.6" r="1.25" fill="#1c2b40"/>
<circle cx="111.84" cy="649" r="1.25" fill="#1c2b40"/>
<circle cx="120.57" cy="644" r="1.25" fill="#1c2b40"/>
<path d="M129.3 616.4V631.3M128.3 616.4H130.3M128.3 631.3H130.3" stroke="#4a6d93" stroke-width="1.1"/>
<circle cx="129.3" cy="623.8" r="1.25" fill="#1c2b40"/>
<path d="M138.03 592.9V619.5M137.03 592.9H139.03M137.03 619.5H139.03" stroke="#4a6d93" stroke-width="1.1"/>
<circle cx="138.03" cy="605.9" r="1.25" fill="#1c2b40"/>
<path d="M146.76 580.5V618.3M145.76 580.5H147.76M145.76 618.3H147.76" stroke="#4a6d93" stroke-width="1.1"/>
<circle cx="146.76" cy="599.5" r="1.25" fill="#1c2b40"/>
<path d="M39.3 649.7H45.3M42.3 647.7V651.5" stroke="#8a1a3c" stroke-width="1.7"/>
<rect x="45.7" y="557" width="10.6" height="9" fill="none" stroke="#333" stroke-width="0.9"/>
<text x="51" y="564.15" class="bn" text-anchor="middle">13</text>
<text x="130.7" y="572.8" class="r2">R<tspan class="sup" dy="-1.8">2</tspan><tspan dy="1.8"> 0.6039</tspan></text>
<text transform="translate(15.3 609.7) rotate(-90)" class="yl" text-anchor="middle" textLength="32" lengthAdjust="spacingAndGlyphs">% Survival</text>
<text x="102.1" y="678" class="al" text-anchor="middle" textLength="100.60000000000001" lengthAdjust="spacingAndGlyphs">Concentration AMY-101 (μg/mL)</text>
<rect x="214" y="647.3" width="52.31" height="2.4" fill="#a9b7ca"/>
<path d="M214 572V649.7H333.6" fill="none" stroke="#2a2a2a" stroke-width="1.25"/>
<path d="M210.7 649.7H214" stroke="#2a2a2a" stroke-width="1"/>
<text x="207.7" y="652.7" class="tl" text-anchor="end">0</text>
<path d="M210.7 618.5H214" stroke="#2a2a2a" stroke-width="1"/>
<text x="207.7" y="621.5" class="tl" text-anchor="end">50</text>
<path d="M210.7 587.3H214" stroke="#2a2a2a" stroke-width="1"/>
<text x="207.7" y="590.3" class="tl" text-anchor="end">100</text>
<path d="M214 649.7V652.3" stroke="#2a2a2a" stroke-width="1"/>
<text x="214" y="664.1" class="tl" text-anchor="middle">0.1</text>
<path d="M243.12 649.7V652.3" stroke="#2a2a2a" stroke-width="1"/>
<text x="243.12" y="664.1" class="tl" text-anchor="middle">1</text>
<path d="M272.25 649.7V652.3" stroke="#2a2a2a" stroke-width="1"/>
<text x="272.25" y="664.1" class="tl" text-anchor="middle">10</text>
<path d="M301.38 649.7V652.3" stroke="#2a2a2a" stroke-width="1"/>
<text x="301.38" y="664.1" class="tl" text-anchor="middle">100</text>
<path d="M330.5 649.7V652.3" stroke="#2a2a2a" stroke-width="1"/>
<text x="330.5" y="664.1" class="tl" text-anchor="middle">1000</text>
<path d="M214 647.87 L214.87 647.87 L215.75 647.87 L216.62 647.87 L217.5 647.87 L218.37 647.87 L219.25 647.87 L220.12 647.87 L220.99 647.87 L221.87 647.87 L222.74 647.87 L223.62 647.87 L224.49 647.87 L225.37 647.87 L226.24 647.87 L227.11 647.87 L227.99 647.87 L228.86 647.87 L229.74 647.87 L230.61 647.87 L231.48 647.87 L232.36 647.87 L233.23 647.87 L234.11 647.87 L234.98 647.87 L235.86 647.87 L236.73 647.86 L237.6 647.86 L238.48 647.86 L239.35 647.86 L240.23 647.86 L241.1 647.85 L241.98 647.85 L242.85 647.85 L243.72 647.84 L244.6 647.84 L245.47 647.83 L246.35 647.83 L247.22 647.82 L248.1 647.81 L248.97 647.81 L249.84 647.8 L250.72 647.78 L251.59 647.77 L252.47 647.76 L253.34 647.74 L254.22 647.72 L255.09 647.7 L255.96 647.68 L256.84 647.65 L257.71 647.61 L258.59 647.58 L259.46 647.54 L260.34 647.49 L261.21 647.43 L262.08 647.37 L262.96 647.3 L263.83 647.22 L264.71 647.13 L265.58 647.03 L266.45 646.91 L267.33 646.77 L268.2 646.62 L269.08 646.45 L269.95 646.25 L270.83 646.03 L271.7 645.77 L272.57 645.49 L273.45 645.17 L274.32 644.81 L275.2 644.4 L276.07 643.95 L276.95 643.44 L277.82 642.87 L278.69 642.23 L279.57 641.53 L280.44 640.76 L281.32 639.91 L282.19 638.97 L283.07 637.95 L283.94 636.85 L284.81 635.66 L285.69 634.39 L286.56 633.03 L287.44 631.6 L288.31 630.1 L289.19 628.53 L290.06 626.92 L290.93 625.27 L291.81 623.6 L292.68 621.92 L293.56 620.24 L294.43 618.59 L295.31 616.97 L296.18 615.39 L297.05 613.88 L297.93 612.43 L298.8 611.06 L299.68 609.76 L300.55 608.56 L301.42 607.43 L302.3 606.4 L303.17 605.45 L304.05 604.57 L304.92 603.78 L305.8 603.07 L306.67 602.42 L307.54 601.84 L308.42 601.31 L309.29 600.85 L310.17 600.43 L311.04 600.06 L311.92 599.73 L312.79 599.44 L313.66 599.18 L314.54 598.95 L315.41 598.75 L316.29 598.57 L317.16 598.41 L318.04 598.27 L318.91 598.15" fill="none" stroke="#2b5282" stroke-width="1.05"/>
<path d="M240 644.1V648.8M239 644.1H241M239 648.8H241" stroke="#4a6d93" stroke-width="1.1"/>
<circle cx="240" cy="646.8" r="1.25" fill="#1c2b40"/>
<circle cx="248.77" cy="648.2" r="1.25" fill="#1c2b40"/>
<circle cx="257.54" cy="647.5" r="1.25" fill="#1c2b40"/>
<circle cx="266.31" cy="647.7" r="1.25" fill="#1c2b40"/>
<path d="M275.07 633.1V647.7M274.07 633.1H276.07M274.07 647.7H276.07" stroke="#4a6d93" stroke-width="1.1"/>
<circle cx="275.07" cy="640.5" r="1.25" fill="#1c2b40"/>
<path d="M283.84 626.3V646.7M282.84 626.3H284.84M282.84 646.7H284.84" stroke="#4a6d93" stroke-width="1.1"/>
<circle cx="283.84" cy="636.8" r="1.25" fill="#1c2b40"/>
<path d="M292.61 612.1V636.6M291.61 612.1H293.61M291.61 636.6H293.61" stroke="#4a6d93" stroke-width="1.1"/>
<circle cx="292.61" cy="623.8" r="1.25" fill="#1c2b40"/>
<path d="M301.38 584.2V615.2M300.38 584.2H302.38M300.38 615.2H302.38" stroke="#4a6d93" stroke-width="1.1"/>
<circle cx="301.38" cy="599.7" r="1.25" fill="#1c2b40"/>
<path d="M310.14 602.8V615.5M309.14 602.8H311.14M309.14 615.5H311.14" stroke="#4a6d93" stroke-width="1.1"/>
<circle cx="310.14" cy="609.4" r="1.25" fill="#1c2b40"/>
<path d="M318.91 586.1V601.6M317.91 586.1H319.91M317.91 601.6H319.91" stroke="#4a6d93" stroke-width="1.1"/>
<circle cx="318.91" cy="594.1" r="1.25" fill="#1c2b40"/>
<path d="M211 649.7H217M214 647.7V651.5" stroke="#8a1a3c" stroke-width="1.7"/>
<rect x="217.6" y="557" width="10.5" height="9.2" fill="none" stroke="#333" stroke-width="0.9"/>
<text x="222.85" y="564.25" class="bn" text-anchor="middle">14</text>
<text x="312.6" y="573.1" class="r2">R<tspan class="sup" dy="-1.8">2</tspan><tspan dy="1.8"> 0.6056</tspan></text>
<text transform="translate(187 610.85) rotate(-90)" class="yl" text-anchor="middle" textLength="32" lengthAdjust="spacingAndGlyphs">% Survival</text>
<text x="273.8" y="678" class="al" text-anchor="middle" textLength="100.60000000000001" lengthAdjust="spacingAndGlyphs">Concentration AMY-101 (μg/mL)</text>
<path d="M385.9 570.2V649.8H503.4" fill="none" stroke="#2a2a2a" stroke-width="1.25"/>
<path d="M382.6 649.8H385.9" stroke="#2a2a2a" stroke-width="1"/>
<text x="379.6" y="652.8" class="tl" text-anchor="end">0</text>
<path d="M382.6 611.4H385.9" stroke="#2a2a2a" stroke-width="1"/>
<text x="379.6" y="614.4" class="tl" text-anchor="end">50</text>
<path d="M382.6 573H385.9" stroke="#2a2a2a" stroke-width="1"/>
<text x="379.6" y="576" class="tl" text-anchor="end">100</text>
<path d="M385.9 649.8V652.4" stroke="#2a2a2a" stroke-width="1"/>
<text x="385.9" y="664.2" class="tl" text-anchor="middle">0.1</text>
<path d="M414.5 649.8V652.4" stroke="#2a2a2a" stroke-width="1"/>
<text x="414.5" y="664.2" class="tl" text-anchor="middle">1</text>
<path d="M443.1 649.8V652.4" stroke="#2a2a2a" stroke-width="1"/>
<text x="443.1" y="664.2" class="tl" text-anchor="middle">10</text>
<path d="M471.7 649.8V652.4" stroke="#2a2a2a" stroke-width="1"/>
<text x="471.7" y="664.2" class="tl" text-anchor="middle">100</text>
<path d="M500.3 649.8V652.4" stroke="#2a2a2a" stroke-width="1"/>
<text x="500.3" y="664.2" class="tl" text-anchor="middle">1000</text>
<path d="M385.9 650.26 L386.76 650.26 L387.62 650.26 L388.48 650.26 L389.33 650.26 L390.19 650.26 L391.05 650.26 L391.91 650.26 L392.77 650.26 L393.63 650.26 L394.48 650.26 L395.34 650.26 L396.2 650.26 L397.06 650.26 L397.92 650.26 L398.78 650.26 L399.64 650.26 L400.49 650.26 L401.35 650.26 L402.21 650.26 L403.07 650.26 L403.93 650.26 L404.79 650.26 L405.65 650.26 L406.5 650.26 L407.36 650.26 L408.22 650.26 L409.08 650.26 L409.94 650.26 L410.8 650.26 L411.65 650.26 L412.51 650.26 L413.37 650.26 L414.23 650.26 L415.09 650.26 L415.95 650.26 L416.81 650.26 L417.66 650.26 L418.52 650.26 L419.38 650.26 L420.24 650.26 L421.1 650.26 L421.96 650.26 L422.82 650.26 L423.67 650.26 L424.53 650.26 L425.39 650.26 L426.25 650.26 L427.11 650.26 L427.97 650.26 L428.82 650.26 L429.68 650.26 L430.54 650.26 L431.4 650.26 L432.26 650.26 L433.12 650.26 L433.98 650.26 L434.83 650.25 L435.69 650.25 L436.55 650.25 L437.41 650.25 L438.27 650.24 L439.13 650.22 L439.98 650.17 L440.84 650.08 L441.7 649.89 L442.56 649.5 L443.42 648.72 L444.28 647.24 L445.14 644.61 L445.99 640.57 L446.85 635.53 L447.71 630.64 L448.57 626.94 L449.43 624.63 L450.29 623.35 L451.15 622.7 L452 622.37 L452.86 622.21 L453.72 622.13 L454.58 622.1 L455.44 622.08 L456.3 622.07 L457.15 622.07 L458.01 622.06 L458.87 622.06 L459.73 622.06 L460.59 622.06 L461.45 622.06 L462.31 622.06 L463.16 622.06 L464.02 622.06 L464.88 622.06 L465.74 622.06 L466.6 622.06 L467.46 622.06 L468.32 622.06 L469.17 622.06 L470.03 622.06 L470.89 622.06 L471.75 622.06 L472.61 622.06 L473.47 622.06 L474.32 622.06 L475.18 622.06 L476.04 622.06 L476.9 622.06 L477.76 622.06 L478.62 622.06 L479.48 622.06 L480.33 622.06 L481.19 622.06 L482.05 622.06 L482.91 622.06 L483.77 622.06 L484.63 622.06 L485.48 622.06 L486.34 622.06 L487.2 622.06 L488.06 622.06 L488.92 622.06" fill="none" stroke="#2b5282" stroke-width="1.05"/>
<circle cx="411.43" cy="649.2" r="1.25" fill="#1c2b40"/>
<circle cx="420.04" cy="649.2" r="1.25" fill="#1c2b40"/>
<circle cx="428.65" cy="649.2" r="1.25" fill="#1c2b40"/>
<circle cx="437.26" cy="649" r="1.25" fill="#1c2b40"/>
<path d="M445.87 639.4V648.7M444.87 639.4H446.87M444.87 648.7H446.87" stroke="#4a6d93" stroke-width="1.1"/>
<circle cx="445.87" cy="644" r="1.25" fill="#1c2b40"/>
<path d="M454.48 606.3V638.3M453.48 606.3H455.48M453.48 638.3H455.48" stroke="#4a6d93" stroke-width="1.1"/>
<circle cx="454.48" cy="622.1" r="1.25" fill="#1c2b40"/>
<path d="M463.09 606V636.3M462.09 606H464.09M462.09 636.3H464.09" stroke="#4a6d93" stroke-width="1.1"/>
<circle cx="463.09" cy="621.3" r="1.25" fill="#1c2b40"/>
<path d="M471.7 602.5V635.4M470.7 602.5H472.7M470.7 635.4H472.7" stroke="#4a6d93" stroke-width="1.1"/>
<circle cx="471.7" cy="619.2" r="1.25" fill="#1c2b40"/>
<path d="M480.31 603.1V637.1M479.31 603.1H481.31M479.31 637.1H481.31" stroke="#4a6d93" stroke-width="1.1"/>
<circle cx="480.31" cy="619.8" r="1.25" fill="#1c2b40"/>
<path d="M488.92 612.3V640M487.92 612.3H489.92M487.92 640H489.92" stroke="#4a6d93" stroke-width="1.1"/>
<circle cx="488.92" cy="626.2" r="1.25" fill="#1c2b40"/>
<path d="M382.9 649.8H388.9M385.9 647.8V651.6" stroke="#8a1a3c" stroke-width="1.7"/>
<rect x="389.6" y="557.1" width="9.6" height="9" fill="none" stroke="#333" stroke-width="0.9"/>
<text x="394.4" y="564.25" class="bn" text-anchor="middle">15</text>
<text x="474.3" y="573.2" class="r2">R<tspan class="sup" dy="-1.8">2</tspan><tspan dy="1.8"> 0.3364</tspan></text>
<text transform="translate(358.9 610) rotate(-90)" class="yl" text-anchor="middle" textLength="32" lengthAdjust="spacingAndGlyphs">% Survival</text>
<text x="445.7" y="678" class="al" text-anchor="middle" textLength="100.60000000000001" lengthAdjust="spacingAndGlyphs">Concentration AMY-101 (μg/mL)</text>
</svg>
</body></html>
